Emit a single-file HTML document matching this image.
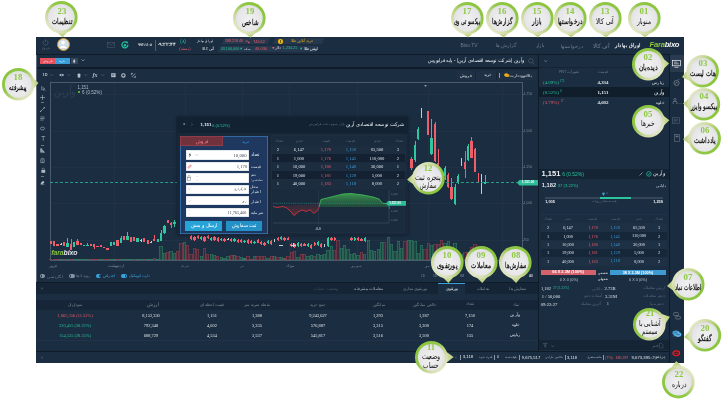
<!DOCTYPE html>
<html lang="fa"><head><meta charset="utf-8"><title>Farabixo</title>
<style>
html,body{margin:0;padding:0;}
body{width:722px;height:400px;position:relative;overflow:hidden;background:#ffffff;font-family:'Liberation Sans',sans-serif;}
body>div,body>svg{position:absolute;}
.t{white-space:nowrap;}
svg{overflow:visible;}
</style></head><body>
<div style="left:36px;top:37px;width:648px;height:326px;background:#1b2d40;"></div>
<div style="left:36px;top:37px;width:648px;height:16.5px;background:#1b2d40;"></div>
<div style="left:36px;top:53.5px;width:648px;height:1px;background:#0f1b27;"></div>
<svg style="left:42.2px;top:38.8px" width="7" height="6.4" viewBox="0 0 7 6.4"><path d="M2.2 1.5 A2.5 2.5 0 1 0 4.8 1.5" fill="none" stroke="#5f6d7e" stroke-width="0.55"/><path d="M3.5 0.3 V3" stroke="#5f6d7e" stroke-width="0.55"/></svg>
<div class="t" dir="rtl" style="top:40.05px;font-size:12.56px;line-height:15.71px;color:#6f7c8c;font-family:'Liberation Sans',sans-serif;left:45.75px;transform-origin:50% 50%;transform:translateX(-50%) scale(0.2500,0.2500);">خروج</div>
<div style="left:56.6px;top:37.9px;width:11.4px;height:11.4px;border-radius:50%;background:#d3dde8;border:1px solid #c9952c"></div>
<svg style="left:58px;top:39.2px" width="10" height="10" viewBox="0 0 10 10"><circle cx="5" cy="3.6" r="1.9" fill="#fff"/><path d="M1.3 9 Q5 4.6 8.7 9 Z" fill="#fff"/></svg>
<svg style="left:107.2px;top:42.2px" width="8" height="5.6" viewBox="0 0 8 5.6"><rect x="0.3" y="0.3" width="7.4" height="5" fill="none" stroke="#4f5f72" stroke-width="0.5"/><path d="M0.3 0.5 L4 3.2 L7.7 0.5" fill="none" stroke="#4f5f72" stroke-width="0.5"/></svg>
<svg style="left:121.4px;top:41.2px" width="8" height="8" viewBox="0 0 8 8"><path d="M5.6 1.4 A3 3 0 1 0 6.9 3.6" fill="none" stroke="#25c29c" stroke-width="1.2"/><path d="M4.6 0.2 L7.4 0.9 L6 3 Z" fill="#25c29c"/><circle cx="4" cy="4.3" r="1.3" fill="#25c29c"/></svg>
<div class="t" style="top:36.19px;font-size:14.41px;line-height:18.01px;color:#e6ebf0;font-family:'Liberation Sans',sans-serif;font-weight:bold;left:145.4px;transform-origin:50% 50%;transform:translateX(-50%) scale(0.2500,0.2500);">۹۷/۱۱/۰۸</div>
<div style="left:154.5px;top:40px;width:0.6px;height:10.5px;background:#4f5f72;"></div>
<div class="t" style="top:33.38px;font-size:18.92px;line-height:23.65px;color:#e6ebf0;font-family:'Liberation Sans',sans-serif;font-weight:bold;left:166.05px;transform-origin:50% 50%;transform:translateX(-50%) scale(0.2500,0.2500);">۰۹:۲۲:۴۴</div>
<div class="t" style="top:28.88px;font-size:19.72px;line-height:24.65px;color:#25c29c;font-family:'Liberation Sans',sans-serif;left:182.5px;transform-origin:50% 50%;transform:translateX(-50%) scale(0.2500,0.2500);">(۸)</div>
<div class="t" dir="rtl" style="top:37.66px;font-size:16.71px;line-height:20.89px;color:#ea5d69;font-family:'Liberation Sans',sans-serif;left:184.75px;transform-origin:50% 50%;transform:translateX(-50%) scale(0.2500,0.2500);">(بسته)</div>
<div class="t" dir="rtl" style="top:32.84px;font-size:13.54px;line-height:16.92px;color:#e6ebf0;font-family:'Liberation Sans',sans-serif;left:205.25px;transform-origin:50% 50%;transform:translateX(-50%) scale(0.2500,0.2500);">اوراق بهادار</div>
<div class="t" dir="rtl" style="top:38.93px;font-size:14.99px;line-height:18.73px;color:#e6ebf0;font-family:'Liberation Sans',sans-serif;left:207.85px;transform-origin:50% 50%;transform:translateX(-50%) scale(0.2500,0.2500);">آتی کالا</div>
<div style="left:223px;top:38.2px;width:46px;height:6.3px;background:#25384d;transform:skewX(-22deg)"></div>
<div style="left:274px;top:38.2px;width:49px;height:6.3px;background:#25384d;transform:skewX(-22deg)"></div>
<div style="left:219px;top:45.7px;width:98px;height:5.8px;background:#25384d;transform:skewX(-22deg)"></div>
<div class="t" style="top:32.31px;font-size:14.55px;line-height:18.19px;color:#ea5d69;font-family:'Liberation Sans',sans-serif;left:234.0px;transform-origin:50% 50%;transform:translateX(-50%) scale(0.2500,0.2500);">188,218.46</div>
<svg style="left:245px;top:39.6px" width="5" height="3.6" viewBox="0 0 5 3.6"><path d="M0.4 1.2 Q2.4 0.2 3.8 2.4" fill="none" stroke="#ea5d69" stroke-width="0.7"/><path d="M2.6 2.8 L4.6 3.4 L4.4 1.4 Z" fill="#ea5d69"/></svg>
<div class="t" style="top:31.91px;font-size:15.18px;line-height:18.97px;color:#ea5d69;font-family:'Liberation Sans',sans-serif;left:258.5px;transform-origin:50% 50%;transform:translateX(-50%) scale(0.2500,0.2500);">746.62</div>
<div style="left:278.3px;top:39.2px;width:4.4px;height:4.4px;border-radius:50%;background:#f0b90b"></div>
<div style="left:280.2px;top:40.2px;width:0.7px;height:2.4px;background:#7a5a00"></div>
<div class="t" dir="rtl" style="top:32.06px;font-size:14.63px;line-height:18.29px;color:#e0a920;font-family:'Liberation Sans',sans-serif;left:301.95px;transform-origin:50% 50%;transform:translateX(-50%) scale(0.2500,0.2500);">خرید آنلاین طلا</div>
<div class="t" style="top:39.25px;font-size:14.96px;line-height:18.69px;color:#25c29c;font-family:'Liberation Sans',sans-serif;left:229.65px;transform-origin:50% 50%;transform:translateX(-50%) scale(0.2500,0.2500);">43,100,000</div>
<svg style="left:239.9px;top:47.3px" width="2.2" height="2.2" viewBox="0 0 2 2"><path d="M1 0 L2 2 H0 Z" fill="#25c29c"/></svg>
<div class="t" dir="rtl" style="top:39.89px;font-size:13.94px;line-height:17.43px;color:#dfe4ea;font-family:'Liberation Sans',sans-serif;left:246.5px;transform-origin:50% 50%;transform:translateX(-50%) scale(0.2500,0.2500);">سکه</div>
<div class="t" style="top:38.39px;font-size:16.34px;line-height:20.43px;color:#ea5d69;font-family:'Liberation Sans',sans-serif;left:260.85px;transform-origin:50% 50%;transform:translateX(-50%) scale(0.2500,0.2500);">49,030</div>
<svg style="left:272.2px;top:47.3px" width="2.6" height="2.4" viewBox="0 0 2 2"><path d="M0 0 H2 L1 2 Z" fill="#ea5d69"/></svg>
<div class="t" dir="rtl" style="top:39.27px;font-size:14.93px;line-height:18.66px;color:#dfe4ea;font-family:'Liberation Sans',sans-serif;left:278.15px;transform-origin:50% 50%;transform:translateX(-50%) scale(0.2500,0.2500);">دلار</div>
<div class="t" style="top:39.41px;font-size:14.70px;line-height:18.37px;color:#25c29c;font-family:'Liberation Sans',sans-serif;left:290.05px;transform-origin:50% 50%;transform:translateX(-50%) scale(0.2500,0.2500);">1,234.21</div>
<svg style="left:300.3px;top:47.3px" width="2.2" height="2.2" viewBox="0 0 2 2"><path d="M1 0 L2 2 H0 Z" fill="#25c29c"/></svg>
<div class="t" dir="rtl" style="top:39.58px;font-size:14.44px;line-height:18.05px;color:#dfe4ea;font-family:'Liberation Sans',sans-serif;left:310.5px;transform-origin:50% 50%;transform:translateX(-50%) scale(0.2500,0.2500);">اونس طلا</div>
<div class="t" style="top:33.22px;font-size:19.64px;line-height:24.56px;color:#6f7d8e;font-family:'Liberation Sans',sans-serif;left:469.35px;transform-origin:50% 50%;transform:translateX(-50%) scale(0.2500,0.2500);">Bixo TV</div>
<div class="t" dir="rtl" style="top:33.29px;font-size:19.54px;line-height:24.42px;color:#6f7d8e;font-family:'Liberation Sans',sans-serif;left:506.0px;transform-origin:50% 50%;transform:translateX(-50%) scale(0.2500,0.2500);">گزارش ها</div>
<div class="t" dir="rtl" style="top:34.01px;font-size:18.38px;line-height:22.97px;color:#6f7d8e;font-family:'Liberation Sans',sans-serif;left:540.15px;transform-origin:50% 50%;transform:translateX(-50%) scale(0.2500,0.2500);">بازار</div>
<div class="t" dir="rtl" style="top:32.66px;font-size:20.55px;line-height:25.69px;color:#6f7d8e;font-family:'Liberation Sans',sans-serif;left:572.2px;transform-origin:50% 50%;transform:translateX(-50%) scale(0.2500,0.2500);">درخواستها</div>
<div class="t" dir="rtl" style="top:31.75px;font-size:22.00px;line-height:27.50px;color:#6f7d8e;font-family:'Liberation Sans',sans-serif;left:600.7px;transform-origin:50% 50%;transform:translateX(-50%) scale(0.2500,0.2500);">آتی کالا</div>
<div class="t" dir="rtl" style="top:32.19px;font-size:21.30px;line-height:26.63px;color:#e6ebf0;font-family:'Liberation Sans',sans-serif;font-weight:bold;left:628.2px;transform-origin:50% 50%;transform:translateX(-50%) scale(0.2500,0.2500);">اوراق بهادار</div>
<div class="t" style="left:649.6px;top:40.8px;font-size:7.6px;line-height:8.2px;font-family:'Liberation Sans',sans-serif;font-style:italic;font-weight:bold;letter-spacing:-0.25px"><span style="color:#8cc63f">Fara</span><span style="color:#f2f4f6">bixo</span></div>
<div style="left:36px;top:54.5px;width:501.5px;height:13px;background:#1b2d40;"></div>
<div style="left:537.5px;top:54.5px;width:1.5px;height:296.5px;background:#0f1b27;"></div>
<div style="left:36px;top:67.3px;width:501.5px;height:1.6px;background:#0f1b27;"></div>
<div style="left:40px;top:57.75px;width:15.2px;height:6.25px;background:#e5525f;"></div>
<div style="left:55.2px;top:57.75px;width:15px;height:6.25px;background:#3a9fd8;"></div>
<div class="t" dir="rtl" style="top:52.72px;font-size:13.56px;line-height:16.96px;color:#ffe9ec;font-family:'Liberation Sans',sans-serif;left:47.65px;transform-origin:50% 50%;transform:translateX(-50%) scale(0.2500,0.2500);">فروش</div>
<div class="t" dir="rtl" style="top:52.49px;font-size:13.93px;line-height:17.41px;color:#e8f4ff;font-family:'Liberation Sans',sans-serif;left:62.35px;transform-origin:50% 50%;transform:translateX(-50%) scale(0.2500,0.2500);">خرید</div>
<div style="left:71.4px;top:57.75px;width:6.3px;height:6.25px;background:#35465b;"></div>
<svg style="left:73.4px;top:58.6px" width="2.4" height="4.6" viewBox="0 0 2.4 4.6"><path d="M1.2 0 L2.4 2.3 L1.2 4.6 L0 2.3 Z" fill="#c9d2dc"/></svg>
<svg style="left:81.3px;top:59.2px" width="4" height="2.6" viewBox="0 0 4 2.6"><path d="M0.4 0.4 L2 2 L3.6 0.4" fill="none" stroke="#a9b4c1" stroke-width="0.6"/></svg>
<div class="t" dir="rtl" style="top:49.06px;font-size:18.47px;line-height:23.09px;color:#e3e8ee;font-family:'Liberation Sans',sans-serif;left:475.6px;transform-origin:50% 50%;transform:translateX(-50%) scale(0.2500,0.2500);">وآرین (شرکت توسعه اقتصادی آرین) - پایه فرابورس</div>
<svg style="left:528px;top:57.6px" width="7" height="7" viewBox="0 0 7 7"><circle cx="2.8" cy="2.8" r="2.2" fill="none" stroke="#5f6d7e" stroke-width="0.5"/><path d="M4.4 4.4 L6.4 6.4" stroke="#5f6d7e" stroke-width="0.6"/></svg>
<div style="left:36px;top:68.9px;width:501.5px;height:11.6px;background:#1b2d40;"></div>
<div class="t" style="top:65.22px;font-size:15.65px;line-height:19.56px;color:#b7c1cc;font-family:'Liberation Sans',sans-serif;font-weight:bold;left:44.75px;transform-origin:50% 50%;transform:translateX(-50%) scale(0.2500,0.2500);">1D</div>
<svg style="left:49.8px;top:74.3px" width="3.4" height="2.4" viewBox="0 0 3.4 2.4"><path d="M0.4 0.4 L1.7 1.8 L3 0.4" fill="none" stroke="#6d7b8c" stroke-width="0.5"/></svg>
<svg style="left:58.7px;top:73.2px" width="5.4" height="4" viewBox="0 0 5.4 4"><path d="M0.2 2 Q2.7 -0.5 5.2 2 Q2.7 4.5 0.2 2 Z" fill="#b7c1cc"/><circle cx="2.7" cy="2" r="0.8" fill="#1b2d40"/></svg>
<svg style="left:66.9px;top:74.3px" width="3.4" height="2.4" viewBox="0 0 3.4 2.4"><path d="M0.4 0.4 L1.7 1.8 L3 0.4" fill="none" stroke="#6d7b8c" stroke-width="0.5"/></svg>
<svg style="left:77.2px;top:72.6px" width="4" height="5" viewBox="0 0 4 5"><rect x="0.7" y="0.8" width="2.6" height="3.8" rx="0.4" fill="#b7c1cc"/><path d="M2 0 V5" stroke="#b7c1cc" stroke-width="0.4"/></svg>
<svg style="left:84.1px;top:74.3px" width="3.4" height="2.4" viewBox="0 0 3.4 2.4"><path d="M0.4 0.4 L1.7 1.8 L3 0.4" fill="none" stroke="#6d7b8c" stroke-width="0.5"/></svg>
<div class="t" style="left:92.4px;top:71.6px;font-size:6px;line-height:7px;font-family:'Liberation Serif','DejaVu Serif',serif;font-style:italic;font-weight:bold;color:#b7c1cc">fx</div>
<svg style="left:101.3px;top:74.3px" width="3.4" height="2.4" viewBox="0 0 3.4 2.4"><path d="M0.4 0.4 L1.7 1.8 L3 0.4" fill="none" stroke="#6d7b8c" stroke-width="0.5"/></svg>
<svg style="left:110.6px;top:72.9px" width="4.8" height="4.4" viewBox="0 0 4.8 4.4"><path d="M0.2 0.2 H4.6 V4.2 H0.2 Z" fill="#b7c1cc"/><path d="M1 1.4 H3.8 M1 2.6 H3" stroke="#1b2d40" stroke-width="0.45"/></svg>
<svg style="left:120.9px;top:72.8px" width="4.8" height="4.8" viewBox="0 0 4.8 4.8"><circle cx="2.4" cy="2.4" r="1.7" fill="none" stroke="#b7c1cc" stroke-width="1.1"/></svg>
<svg style="left:131px;top:72.8px" width="4.8" height="4.8" viewBox="0 0 4.8 4.8"><path d="M0.4 2 V0.4 H2 M4.4 2.8 V4.4 H2.8 M0.6 4.2 L4.2 0.6" fill="none" stroke="#b7c1cc" stroke-width="0.7"/></svg>
<div style="left:456.6px;top:71.3px;width:79px;height:8.3px;background:#1f3044;"></div>
<div style="left:475.3px;top:71.3px;width:0.6px;height:8.299999999999997px;background:#162638;"></div>
<div style="left:496.1px;top:71.3px;width:0.6px;height:8.299999999999997px;background:#162638;"></div>
<div class="t" dir="rtl" style="top:65.84px;font-size:14.97px;line-height:18.71px;color:#dfe5eb;font-family:'Liberation Sans',sans-serif;left:521.3px;transform-origin:50% 50%;transform:translateX(-50%) scale(0.2500,0.2500);">بالاخوود دارت</div>
<svg style="left:503.6px;top:73.2px" width="5.8" height="4.4" viewBox="0 0 6 4.6"><ellipse cx="2.4" cy="2" rx="2.3" ry="1.8" fill="#f2b81c"/><ellipse cx="3.9" cy="2.8" rx="1.9" ry="1.5" fill="#e6a310"/></svg>
<div style="left:499.4px;top:72.8px;width:0.5px;height:5.0px;background:#8a97a6;"></div>
<div class="t" dir="rtl" style="top:66.11px;font-size:14.55px;line-height:18.19px;color:#dfe5eb;font-family:'Liberation Sans',sans-serif;left:487.6px;transform-origin:50% 50%;transform:translateX(-50%) scale(0.2500,0.2500);">خرید</div>
<div class="t" dir="rtl" style="top:64.91px;font-size:16.47px;line-height:20.59px;color:#dfe5eb;font-family:'Liberation Sans',sans-serif;left:466.35px;transform-origin:50% 50%;transform:translateX(-50%) scale(0.2500,0.2500);">فروش</div>
<div style="left:36px;top:80.5px;width:501.5px;height:201px;background:#1b2d40;"></div>
<div style="left:36px;top:54.5px;width:0.9px;height:227.5px;background:#5d6b7d;"></div>
<svg style="left:40.5px;top:85.5px" width="5" height="5" viewBox="0 0 5 5"><path d="M0.5 0.5 L0.5 4 L1.6 3 L2.6 4.6 L3.2 4.3 L2.3 2.8 L3.8 2.7 Z" fill="none" stroke="#aeb9c6" stroke-width="0.45"/><path d="M3.2 3.4 L4.6 4.6" stroke="#aeb9c6" stroke-width="0.4"/></svg>
<svg style="left:40.3px;top:94.8px" width="5" height="5" viewBox="0 0 5 5"><path d="M2.5 0 V5 M0 2.5 H5" stroke="#aeb9c6" stroke-width="0.6"/></svg>
<div style="left:41.3px;top:102px;width:2.9000000000000057px;height:0.5px;background:#66768a;"></div>
<svg style="left:40.3px;top:107px" width="5" height="5" viewBox="0 0 5 5"><path d="M0.5 4.5 L4.5 0.5" stroke="#aeb9c6" stroke-width="0.6"/><circle cx="0.7" cy="4.3" r="0.6" fill="#aeb9c6"/><circle cx="4.3" cy="0.7" r="0.6" fill="#aeb9c6"/></svg>
<svg style="left:40.3px;top:116.2px" width="5" height="5" viewBox="0 0 5 5"><path d="M0.3 1 H4.7 M0.3 2.5 H4.7 M0.3 4 H3.5" stroke="#aeb9c6" stroke-width="0.6"/></svg>
<svg style="left:40.3px;top:126.4px" width="5" height="5" viewBox="0 0 5 5"><ellipse cx="2.5" cy="2.5" rx="2.1" ry="1.4" fill="none" stroke="#aeb9c6" stroke-width="0.6"/></svg>
<svg style="left:40.6px;top:136px" width="4.5" height="5" viewBox="0 0 4.5 5"><path d="M0.3 0.5 H4.2 M2.25 0.5 V4.8" stroke="#aeb9c6" stroke-width="0.6"/></svg>
<div style="left:41.3px;top:144.5px;width:2.9000000000000057px;height:0.5px;background:#66768a;"></div>
<svg style="left:40.3px;top:148.2px" width="5" height="5" viewBox="0 0 5 5"><path d="M0.5 4.6 V0.6 H1.8 V4.6 M2.4 4.6 V1.6 L4.6 4.6 Z" fill="#aeb9c6" stroke="#aeb9c6" stroke-width="0.3"/></svg>
<svg style="left:40.3px;top:158.4px" width="5" height="5" viewBox="0 0 5 5"><path d="M0.8 4.6 V2 A1.7 1.7 0 0 1 4.2 2 V4.6 Z" fill="none" stroke="#aeb9c6" stroke-width="0.6"/><path d="M2.5 1 V4.6" stroke="#aeb9c6" stroke-width="0.4"/></svg>
<svg style="left:40.5px;top:167.8px" width="4.6" height="5" viewBox="0 0 4.6 5"><rect x="0.4" y="2" width="3.8" height="2.8" fill="#aeb9c6"/><path d="M1.2 2 V1.2 A1.1 1.1 0 0 1 3.4 1.2 V2" fill="none" stroke="#aeb9c6" stroke-width="0.5"/></svg>
<div style="left:41.3px;top:176px;width:2.9000000000000057px;height:0.5px;background:#66768a;"></div>
<svg style="left:40.3px;top:180px" width="5" height="5" viewBox="0 0 5 5"><path d="M0.5 3.2 L3 0.7 L4.5 2.2 L2 4.7 Z" fill="#aeb9c6"/><path d="M0.5 4.6 H4.6" stroke="#aeb9c6" stroke-width="0.4"/></svg>
<div style="left:49.5px;top:94.45px;width:472.0px;height:0.5px;background:#223245;"></div>
<div style="left:49.5px;top:131.05px;width:472.0px;height:0.5px;background:#223245;"></div>
<div style="left:49.5px;top:167.35px;width:472.0px;height:0.5px;background:#223245;"></div>
<div style="left:49.5px;top:203.45px;width:472.0px;height:0.5px;background:#223245;"></div>
<div style="left:49.5px;top:240.25px;width:472.0px;height:0.5px;background:#223245;"></div>
<div style="left:114.45px;top:81.6px;width:0.5px;height:178.00000000000003px;background:#223245;"></div>
<div style="left:185.05px;top:81.6px;width:0.5px;height:178.00000000000003px;background:#223245;"></div>
<div style="left:242.15px;top:81.6px;width:0.5px;height:178.00000000000003px;background:#223245;"></div>
<div style="left:289.05px;top:81.6px;width:0.5px;height:178.00000000000003px;background:#223245;"></div>
<div style="left:356.65px;top:81.6px;width:0.5px;height:178.00000000000003px;background:#223245;"></div>
<div style="left:428.15px;top:81.6px;width:0.5px;height:178.00000000000003px;background:#223245;"></div>
<div style="left:502.15px;top:81.6px;width:0.5px;height:178.00000000000003px;background:#223245;"></div>
<div style="left:49.5px;top:81.6px;width:472.0px;height:0.7px;background:#4b5a6d;"></div>
<div style="left:49.5px;top:81.6px;width:0.7px;height:179.00000000000003px;background:#4b5a6d;"></div>
<div style="left:521.5px;top:81.6px;width:0.7px;height:193.4px;background:#4b5a6d;"></div>
<div style="left:49.5px;top:259.6px;width:472.70000000000005px;height:0.5px;background:#4b5a6d;"></div>
<div style="left:521.5px;top:94.45px;width:2.0px;height:0.5px;background:#4b5a6d;"></div>
<div class="t" style="top:86.20px;font-size:13.59px;line-height:16.99px;color:#7d8a99;font-family:'Liberation Sans',sans-serif;left:527.75px;transform-origin:50% 50%;transform:translateX(-50%) scale(0.2500,0.2500);">1,750</div>
<div style="left:521.5px;top:131.05px;width:2.0px;height:0.5px;background:#4b5a6d;"></div>
<div class="t" style="top:122.80px;font-size:13.59px;line-height:16.99px;color:#7d8a99;font-family:'Liberation Sans',sans-serif;left:527.75px;transform-origin:50% 50%;transform:translateX(-50%) scale(0.2500,0.2500);">1,500</div>
<div style="left:521.5px;top:167.35px;width:2.0px;height:0.5px;background:#4b5a6d;"></div>
<div class="t" style="top:159.10px;font-size:13.59px;line-height:16.99px;color:#7d8a99;font-family:'Liberation Sans',sans-serif;left:527.75px;transform-origin:50% 50%;transform:translateX(-50%) scale(0.2500,0.2500);">1,250</div>
<div style="left:521.5px;top:203.45px;width:2.0px;height:0.5px;background:#4b5a6d;"></div>
<div class="t" style="top:195.20px;font-size:13.59px;line-height:16.99px;color:#7d8a99;font-family:'Liberation Sans',sans-serif;left:527.75px;transform-origin:50% 50%;transform:translateX(-50%) scale(0.2500,0.2500);">1,000</div>
<div style="left:521.5px;top:240.25px;width:2.0px;height:0.5px;background:#4b5a6d;"></div>
<div class="t" style="top:232.41px;font-size:12.94px;line-height:16.18px;color:#7d8a99;font-family:'Liberation Sans',sans-serif;left:526.2px;transform-origin:50% 50%;transform:translateX(-50%) scale(0.2500,0.2500);">750</div>
<div class="t" dir="rtl" style="top:63.22px;font-size:44.45px;line-height:55.57px;color:#2f4055;font-family:'Liberation Sans',sans-serif;left:64.9px;transform-origin:50% 50%;transform:translateX(-50%) scale(0.2125,0.2500);">وآرین</div>
<div class="t" style="top:76.01px;font-size:17.74px;line-height:22.18px;color:#b4bdc8;font-family:'Liberation Sans',sans-serif;left:82.65px;transform-origin:50% 50%;transform:translateX(-50%) scale(0.2500,0.2500);">1,151</div>
<div style="left:77.6px;top:91.2px;width:2px;height:2px;border-radius:50%;background:#7bd23a"></div>
<div class="t" style="top:80.83px;font-size:18.36px;line-height:22.95px;color:#b4bdc8;font-family:'Liberation Sans',sans-serif;left:91.55px;transform-origin:50% 50%;transform:translateX(-50%) scale(0.2500,0.2500);">6 (0.52%)</div>
<svg style="left:423.5px;top:84.6px" width="3" height="2" viewBox="0 0 3 2"><path d="M0 0 H3 L1.5 2 Z" fill="#8b97a5"/></svg>
<div style="left:49.65px;top:241px;width:2.3px;height:3px;background:#ef5f6b;"></div>
<div style="left:52.99px;top:241px;width:2.3px;height:5px;background:#ef5f6b;"></div>
<div style="left:56.33px;top:244px;width:2.3px;height:2px;background:#ef5f6b;"></div>
<div style="left:60.57px;top:242.5px;width:0.5px;height:2.5px;background:#c5ccd4;"></div>
<div style="left:60.02px;top:243.5px;width:1.6px;height:0.8px;background:#c5ccd4;"></div>
<div style="left:63.01px;top:242px;width:2.3px;height:4px;background:#ef5f6b;"></div>
<div style="left:67.25px;top:238px;width:0.5px;height:9px;background:#2ec79f;"></div>
<div style="left:66.35px;top:243px;width:2.3px;height:4px;background:#2ec79f;"></div>
<div style="left:70.59px;top:239px;width:0.5px;height:11px;background:#ef5f6b;"></div>
<div style="left:69.69px;top:244px;width:2.3px;height:5.5px;background:#ef5f6b;"></div>
<div style="left:73.03px;top:242px;width:2.3px;height:5px;background:#2ec79f;"></div>
<div style="left:77.27px;top:239px;width:0.5px;height:6px;background:#ef5f6b;"></div>
<div style="left:76.37px;top:241px;width:2.3px;height:4px;background:#ef5f6b;"></div>
<div style="left:79.71px;top:243px;width:2.3px;height:2px;background:#ef5f6b;"></div>
<div style="left:83.05px;top:245px;width:2.3px;height:1px;background:#2ec79f;"></div>
<div style="left:87.29px;top:243px;width:0.5px;height:3px;background:#2ec79f;"></div>
<div style="left:86.39px;top:245px;width:2.3px;height:1px;background:#2ec79f;"></div>
<div style="left:89.73px;top:244px;width:2.3px;height:2px;background:#ef5f6b;"></div>
<div style="left:93.97px;top:244px;width:0.5px;height:5px;background:#ef5f6b;"></div>
<div style="left:93.07px;top:244px;width:2.3px;height:3px;background:#ef5f6b;"></div>
<div style="left:96.41px;top:246px;width:2.3px;height:1px;background:#ef5f6b;"></div>
<div style="left:99.75px;top:245px;width:2.3px;height:2px;background:#ef5f6b;"></div>
<div style="left:103.09px;top:247px;width:2.3px;height:1px;background:#ef5f6b;"></div>
<div style="left:106.43px;top:248px;width:2.3px;height:1.5px;background:#ef5f6b;"></div>
<div style="left:109.77px;top:242px;width:2.3px;height:3.5px;background:#2ec79f;"></div>
<div style="left:113.11px;top:242px;width:2.3px;height:3px;background:#2ec79f;"></div>
<div style="left:116.45px;top:240px;width:2.3px;height:6px;background:#ef5f6b;"></div>
<div style="left:120.69px;top:236px;width:0.5px;height:7px;background:#2ec79f;"></div>
<div style="left:119.79px;top:238px;width:2.3px;height:4.5px;background:#2ec79f;"></div>
<div style="left:123.13px;top:236px;width:2.3px;height:4px;background:#ef5f6b;"></div>
<div style="left:127.37px;top:232px;width:0.5px;height:8px;background:#2ec79f;"></div>
<div style="left:126.47px;top:236px;width:2.3px;height:4px;background:#2ec79f;"></div>
<div style="left:129.81px;top:237px;width:2.3px;height:5px;background:#ef5f6b;"></div>
<div style="left:133.15px;top:237px;width:2.3px;height:4px;background:#ef5f6b;"></div>
<div style="left:136.49px;top:238px;width:2.3px;height:4px;background:#2ec79f;"></div>
<div style="left:140.73px;top:239px;width:0.5px;height:3px;background:#c5ccd4;"></div>
<div style="left:140.18px;top:240px;width:1.6px;height:0.8px;background:#c5ccd4;"></div>
<div style="left:143.17px;top:238px;width:2.3px;height:4px;background:#ef5f6b;"></div>
<div style="left:146.51px;top:240px;width:2.3px;height:4px;background:#ef5f6b;"></div>
<div style="left:150.75px;top:240.5px;width:0.5px;height:2.5px;background:#c5ccd4;"></div>
<div style="left:150.2px;top:241.6px;width:1.6px;height:0.8px;background:#c5ccd4;"></div>
<div style="left:154.09px;top:235px;width:0.5px;height:6px;background:#ef5f6b;"></div>
<div style="left:153.19px;top:239px;width:2.3px;height:1.5px;background:#ef5f6b;"></div>
<div style="left:156.53px;top:239px;width:2.3px;height:3px;background:#2ec79f;"></div>
<div style="left:160.77px;top:230px;width:0.5px;height:11px;background:#2ec79f;"></div>
<div style="left:159.87px;top:233px;width:2.3px;height:8px;background:#2ec79f;"></div>
<div style="left:164.11px;top:225px;width:0.5px;height:9px;background:#2ec79f;"></div>
<div style="left:163.21px;top:226px;width:2.3px;height:7px;background:#2ec79f;"></div>
<div style="left:166.55px;top:220px;width:2.3px;height:3px;background:#ef5f6b;"></div>
<div style="left:170.79px;top:222px;width:0.5px;height:6px;background:#ef5f6b;"></div>
<div style="left:169.89px;top:223px;width:2.3px;height:2px;background:#ef5f6b;"></div>
<div style="left:174.13px;top:220px;width:0.5px;height:7px;background:#2ec79f;"></div>
<div style="left:173.23px;top:222px;width:2.3px;height:2px;background:#2ec79f;"></div>
<div style="left:190.83px;top:235.39999999999998px;width:0.5px;height:4.600000000000023px;background:#ef5f6b;"></div>
<div style="left:189.93px;top:236.2px;width:2.3px;height:3.0px;background:#ef5f6b;"></div>
<div style="left:194.17px;top:235.89999999999998px;width:0.5px;height:5.100000000000023px;background:#ef5f6b;"></div>
<div style="left:193.27px;top:236.7px;width:2.3px;height:3.5px;background:#ef5f6b;"></div>
<div style="left:197.51px;top:235.39999999999998px;width:0.5px;height:3.6000000000000227px;background:#ef5f6b;"></div>
<div style="left:196.61px;top:236.2px;width:2.3px;height:2.0px;background:#ef5f6b;"></div>
<div style="left:200.85px;top:236.39999999999998px;width:0.5px;height:3.6000000000000227px;background:#2ec79f;"></div>
<div style="left:199.95px;top:237.2px;width:2.3px;height:2.0px;background:#2ec79f;"></div>
<div style="left:204.19px;top:236.39999999999998px;width:0.5px;height:5.600000000000023px;background:#ef5f6b;"></div>
<div style="left:203.29px;top:237.2px;width:2.3px;height:4.0px;background:#ef5f6b;"></div>
<div style="left:207.53px;top:235.39999999999998px;width:0.5px;height:3.6000000000000227px;background:#ef5f6b;"></div>
<div style="left:206.63px;top:236.2px;width:2.3px;height:2.0px;background:#ef5f6b;"></div>
<div style="left:210.87px;top:237.39999999999998px;width:0.5px;height:3.6000000000000227px;background:#2ec79f;"></div>
<div style="left:209.97px;top:238.2px;width:2.3px;height:2.0px;background:#2ec79f;"></div>
<div style="left:214.21px;top:236.39999999999998px;width:0.5px;height:4.600000000000023px;background:#ef5f6b;"></div>
<div style="left:213.31px;top:237.2px;width:2.3px;height:3.0px;background:#ef5f6b;"></div>
<div style="left:217.55px;top:237.39999999999998px;width:0.5px;height:4.600000000000023px;background:#ef5f6b;"></div>
<div style="left:216.65px;top:238.2px;width:2.3px;height:3.0px;background:#ef5f6b;"></div>
<div style="left:220.89px;top:238.39999999999998px;width:0.5px;height:2.6000000000000227px;background:#2ec79f;"></div>
<div style="left:219.99px;top:239.2px;width:2.3px;height:1.0px;background:#2ec79f;"></div>
<div style="left:224.23px;top:237.89999999999998px;width:0.5px;height:4.100000000000023px;background:#ef5f6b;"></div>
<div style="left:223.33px;top:238.7px;width:2.3px;height:2.5px;background:#ef5f6b;"></div>
<div style="left:227.57px;top:237.7px;width:0.5px;height:2.6999999999999886px;background:#c5ccd4;"></div>
<div style="left:227.02px;top:238.7px;width:1.6px;height:0.8px;background:#c5ccd4;"></div>
<div style="left:230.91px;top:238.39999999999998px;width:0.5px;height:3.6000000000000227px;background:#ef5f6b;"></div>
<div style="left:230.01px;top:239.2px;width:2.3px;height:2.0px;background:#ef5f6b;"></div>
<div style="left:234.25px;top:238.39999999999998px;width:0.5px;height:3.6000000000000227px;background:#2ec79f;"></div>
<div style="left:233.35px;top:239.2px;width:2.3px;height:2.0px;background:#2ec79f;"></div>
<div style="left:237.59px;top:239.39999999999998px;width:0.5px;height:3.6000000000000227px;background:#ef5f6b;"></div>
<div style="left:236.69px;top:240.2px;width:2.3px;height:2.0px;background:#ef5f6b;"></div>
<div style="left:240.93px;top:238.89999999999998px;width:0.5px;height:4.100000000000023px;background:#ef5f6b;"></div>
<div style="left:240.03px;top:239.7px;width:2.3px;height:2.5px;background:#ef5f6b;"></div>
<div style="left:244.27px;top:239.89999999999998px;width:0.5px;height:3.1000000000000227px;background:#2ec79f;"></div>
<div style="left:243.37px;top:240.7px;width:2.3px;height:1.5px;background:#2ec79f;"></div>
<div style="left:247.61px;top:239.39999999999998px;width:0.5px;height:4.600000000000023px;background:#ef5f6b;"></div>
<div style="left:246.71px;top:240.2px;width:2.3px;height:3.0px;background:#ef5f6b;"></div>
<div style="left:250.95px;top:240.39999999999998px;width:0.5px;height:3.6000000000000227px;background:#ef5f6b;"></div>
<div style="left:250.05px;top:241.2px;width:2.3px;height:2.0px;background:#ef5f6b;"></div>
<div style="left:254.29px;top:240.89999999999998px;width:0.5px;height:3.1000000000000227px;background:#2ec79f;"></div>
<div style="left:253.39px;top:241.7px;width:2.3px;height:1.5px;background:#2ec79f;"></div>
<div style="left:257.63px;top:239.39999999999998px;width:0.5px;height:4.100000000000023px;background:#ef5f6b;"></div>
<div style="left:256.73px;top:240.2px;width:2.3px;height:2.5px;background:#ef5f6b;"></div>
<div style="left:260.97px;top:241.39999999999998px;width:0.5px;height:3.6000000000000227px;background:#ef5f6b;"></div>
<div style="left:260.07px;top:242.2px;width:2.3px;height:2.0px;background:#ef5f6b;"></div>
<div style="left:264.31px;top:241.89999999999998px;width:0.5px;height:4.100000000000023px;background:#ef5f6b;"></div>
<div style="left:263.41px;top:242.7px;width:2.3px;height:2.5px;background:#ef5f6b;"></div>
<div style="left:267.65px;top:240.39999999999998px;width:0.5px;height:3.6000000000000227px;background:#2ec79f;"></div>
<div style="left:266.75px;top:241.2px;width:2.3px;height:2.0px;background:#2ec79f;"></div>
<div style="left:270.99px;top:240.39999999999998px;width:0.5px;height:4.600000000000023px;background:#ef5f6b;"></div>
<div style="left:270.09px;top:241.2px;width:2.3px;height:3.0px;background:#ef5f6b;"></div>
<div style="left:274.33px;top:239.2px;width:0.5px;height:3.0px;background:#c5ccd4;"></div>
<div style="left:273.78px;top:240.2px;width:1.6px;height:1.0px;background:#c5ccd4;"></div>
<div style="left:277.67px;top:237.39999999999998px;width:0.5px;height:3.6000000000000227px;background:#ef5f6b;"></div>
<div style="left:276.77px;top:238.2px;width:2.3px;height:2.0px;background:#ef5f6b;"></div>
<div style="left:281.01px;top:236.39999999999998px;width:0.5px;height:3.6000000000000227px;background:#2ec79f;"></div>
<div style="left:280.11px;top:237.2px;width:2.3px;height:2.0px;background:#2ec79f;"></div>
<div style="left:284.35px;top:237.39999999999998px;width:0.5px;height:3.6000000000000227px;background:#ef5f6b;"></div>
<div style="left:283.45px;top:238.2px;width:2.3px;height:2.0px;background:#ef5f6b;"></div>
<div style="left:287.69px;top:237.39999999999998px;width:0.5px;height:3.1000000000000227px;background:#ef5f6b;"></div>
<div style="left:286.79px;top:238.2px;width:2.3px;height:1.5px;background:#ef5f6b;"></div>
<div style="left:291.03px;top:243.2px;width:0.5px;height:3.6000000000000227px;background:#ef5f6b;"></div>
<div style="left:290.13px;top:244px;width:2.3px;height:2px;background:#ef5f6b;"></div>
<div style="left:294.37px;top:243.2px;width:0.5px;height:4.600000000000023px;background:#ef5f6b;"></div>
<div style="left:293.47px;top:244px;width:2.3px;height:3px;background:#ef5f6b;"></div>
<div style="left:297.71px;top:242.2px;width:0.5px;height:4.600000000000023px;background:#2ec79f;"></div>
<div style="left:296.81px;top:243px;width:2.3px;height:3px;background:#2ec79f;"></div>
<div style="left:301.05px;top:243.2px;width:0.5px;height:3.6000000000000227px;background:#ef5f6b;"></div>
<div style="left:300.15px;top:244px;width:2.3px;height:2px;background:#ef5f6b;"></div>
<div style="left:304.39px;top:242.7px;width:0.5px;height:3.6000000000000227px;background:#ef5f6b;"></div>
<div style="left:303.49px;top:243.5px;width:2.3px;height:2.0px;background:#ef5f6b;"></div>
<div style="left:307.73px;top:243.2px;width:0.5px;height:3.6000000000000227px;background:#2ec79f;"></div>
<div style="left:306.83px;top:244px;width:2.3px;height:2px;background:#2ec79f;"></div>
<div style="left:311.07px;top:244.2px;width:0.5px;height:4.600000000000023px;background:#ef5f6b;"></div>
<div style="left:310.17px;top:245px;width:2.3px;height:3px;background:#ef5f6b;"></div>
<div style="left:314.41px;top:242.2px;width:0.5px;height:3.6000000000000227px;background:#ef5f6b;"></div>
<div style="left:313.51px;top:243px;width:2.3px;height:2px;background:#ef5f6b;"></div>
<div style="left:317.75px;top:241.2px;width:0.5px;height:4.600000000000023px;background:#2ec79f;"></div>
<div style="left:316.85px;top:242px;width:2.3px;height:3px;background:#2ec79f;"></div>
<div style="left:321.09px;top:243.2px;width:0.5px;height:4.600000000000023px;background:#ef5f6b;"></div>
<div style="left:320.19px;top:244px;width:2.3px;height:3px;background:#ef5f6b;"></div>
<div style="left:324.43px;top:244px;width:0.5px;height:3px;background:#c5ccd4;"></div>
<div style="left:323.88px;top:245px;width:1.6px;height:1px;background:#c5ccd4;"></div>
<div style="left:327.77px;top:237.2px;width:0.5px;height:9.600000000000023px;background:#2ec79f;"></div>
<div style="left:326.87px;top:238px;width:2.3px;height:8px;background:#2ec79f;"></div>
<div style="left:331.11px;top:237.2px;width:0.5px;height:3.6000000000000227px;background:#ef5f6b;"></div>
<div style="left:330.21px;top:238px;width:2.3px;height:2px;background:#ef5f6b;"></div>
<div style="left:334.45px;top:237.2px;width:0.5px;height:3.6000000000000227px;background:#ef5f6b;"></div>
<div style="left:333.55px;top:238px;width:2.3px;height:2px;background:#ef5f6b;"></div>
<div style="left:351.15px;top:237.2px;width:0.5px;height:3.6000000000000227px;background:#ef5f6b;"></div>
<div style="left:350.25px;top:238px;width:2.3px;height:2px;background:#ef5f6b;"></div>
<div style="left:354.49px;top:237.2px;width:0.5px;height:3.6000000000000227px;background:#2ec79f;"></div>
<div style="left:353.59px;top:238px;width:2.3px;height:2px;background:#2ec79f;"></div>
<div style="left:357.83px;top:237.2px;width:0.5px;height:3.6000000000000227px;background:#ef5f6b;"></div>
<div style="left:356.93px;top:238px;width:2.3px;height:2px;background:#ef5f6b;"></div>
<div style="left:361.17px;top:237.7px;width:0.5px;height:3.6000000000000227px;background:#ef5f6b;"></div>
<div style="left:360.27px;top:238.5px;width:2.3px;height:2.0px;background:#ef5f6b;"></div>
<div style="left:364.51px;top:237.2px;width:0.5px;height:4.600000000000023px;background:#2ec79f;"></div>
<div style="left:363.61px;top:238px;width:2.3px;height:3px;background:#2ec79f;"></div>
<div style="left:411.27px;top:157px;width:0.5px;height:13px;background:#ef5f6b;"></div>
<div style="left:410.37px;top:159px;width:2.3px;height:9px;background:#ef5f6b;"></div>
<div style="left:414.61px;top:141px;width:0.5px;height:21px;background:#2ec79f;"></div>
<div style="left:413.71px;top:145px;width:2.3px;height:15px;background:#2ec79f;"></div>
<div style="left:417.95px;top:127px;width:0.5px;height:13px;background:#2ec79f;"></div>
<div style="left:417.05px;top:129px;width:2.3px;height:10px;background:#2ec79f;"></div>
<div style="left:421.29px;top:108px;width:0.5px;height:10px;background:#c5ccd4;"></div>
<div style="left:420.74px;top:112px;width:1.6px;height:1px;background:#c5ccd4;"></div>
<div style="left:427.07px;top:111px;width:2.3px;height:24px;background:#ef5f6b;"></div>
<div style="left:431.31px;top:119px;width:0.5px;height:36px;background:#2ec79f;"></div>
<div style="left:430.41px;top:137.6px;width:2.3px;height:16.8px;background:#2ec79f;"></div>
<div style="left:434.65px;top:122px;width:0.5px;height:40px;background:#ef5f6b;"></div>
<div style="left:433.75px;top:123.6px;width:2.3px;height:37.4px;background:#ef5f6b;"></div>
<div style="left:437.99px;top:149px;width:0.5px;height:19px;background:#ef5f6b;"></div>
<div style="left:437.09px;top:163px;width:2.3px;height:3px;background:#ef5f6b;"></div>
<div style="left:444.67px;top:166px;width:0.5px;height:14px;background:#2ec79f;"></div>
<div style="left:443.77px;top:168px;width:2.3px;height:8px;background:#2ec79f;"></div>
<div style="left:448.01px;top:173px;width:0.5px;height:15px;background:#ef5f6b;"></div>
<div style="left:447.11px;top:175px;width:2.3px;height:12px;background:#ef5f6b;"></div>
<div style="left:451.35px;top:178px;width:0.5px;height:22px;background:#ef5f6b;"></div>
<div style="left:450.45px;top:187px;width:2.3px;height:12px;background:#ef5f6b;"></div>
<div style="left:454.69px;top:184px;width:0.5px;height:21px;background:#2ec79f;"></div>
<div style="left:453.79px;top:187px;width:2.3px;height:17.4px;background:#2ec79f;"></div>
<div style="left:458.03px;top:174px;width:0.5px;height:10px;background:#2ec79f;"></div>
<div style="left:457.13px;top:175.6px;width:2.3px;height:7.4px;background:#2ec79f;"></div>
<div style="left:461.37px;top:158px;width:0.5px;height:8px;background:#c5ccd4;"></div>
<div style="left:460.82px;top:161.6px;width:1.6px;height:0.8px;background:#c5ccd4;"></div>
<div style="left:464.71px;top:151px;width:0.5px;height:27px;background:#ef5f6b;"></div>
<div style="left:463.81px;top:162px;width:2.3px;height:7px;background:#ef5f6b;"></div>
<div style="left:468.05px;top:144px;width:0.5px;height:17px;background:#2ec79f;"></div>
<div style="left:467.15px;top:146px;width:2.3px;height:14px;background:#2ec79f;"></div>
<div style="left:471.39px;top:137px;width:0.5px;height:21px;background:#ef5f6b;"></div>
<div style="left:470.49px;top:141px;width:2.3px;height:16.6px;background:#ef5f6b;"></div>
<div style="left:474.73px;top:148px;width:0.5px;height:24px;background:#ef5f6b;"></div>
<div style="left:473.83px;top:149px;width:2.3px;height:22.6px;background:#ef5f6b;"></div>
<div style="left:478.07px;top:173px;width:0.5px;height:10px;background:#ef5f6b;"></div>
<div style="left:477.17px;top:181.5px;width:2.3px;height:1.5px;background:#ef5f6b;"></div>
<div style="left:481.41px;top:174px;width:0.5px;height:19.599999999999994px;background:#c5ccd4;"></div>
<div style="left:480.86px;top:187.6px;width:1.6px;height:0.8px;background:#c5ccd4;"></div>
<div style="left:484.75px;top:175px;width:0.5px;height:8.5px;background:#2ec79f;"></div>
<div style="left:483.85px;top:181.5px;width:2.3px;height:2.0px;background:#2ec79f;"></div>
<div style="left:49.2px;top:258.92px;width:3.3px;height:0.68px;background:#8a3e4b;"></div>
<div style="left:52.54px;top:258.91px;width:3.3px;height:0.69px;background:#8a3e4b;"></div>
<div style="left:55.88px;top:259.03px;width:3.3px;height:0.57px;background:#8a3e4b;"></div>
<div style="left:59.22px;top:258.78px;width:3.3px;height:0.82px;background:#2f7a63;"></div>
<div style="left:62.56px;top:258.98px;width:3.3px;height:0.62px;background:#8a3e4b;"></div>
<div style="left:65.9px;top:258.82px;width:3.3px;height:0.78px;background:#2f7a63;"></div>
<div style="left:69.24px;top:258.71px;width:3.3px;height:0.89px;background:#8a3e4b;"></div>
<div style="left:72.58px;top:258.85px;width:3.3px;height:0.75px;background:#2f7a63;"></div>
<div style="left:75.92px;top:259.09px;width:3.3px;height:0.51px;background:#2f7a63;"></div>
<div style="left:79.26px;top:259.02px;width:3.3px;height:0.58px;background:#2f7a63;"></div>
<div style="left:82.6px;top:258.91px;width:3.3px;height:0.69px;background:#2f7a63;"></div>
<div style="left:85.94px;top:258.76px;width:3.3px;height:0.84px;background:#2f7a63;"></div>
<div style="left:89.28px;top:258.84px;width:3.3px;height:0.76px;background:#8a3e4b;"></div>
<div style="left:92.62px;top:258.92px;width:3.3px;height:0.68px;background:#8a3e4b;"></div>
<div style="left:95.96px;top:258.7px;width:3.3px;height:0.9px;background:#8a3e4b;"></div>
<div style="left:99.3px;top:258.97px;width:3.3px;height:0.63px;background:#2f7a63;"></div>
<div style="left:102.64px;top:259.07px;width:3.3px;height:0.53px;background:#8a3e4b;"></div>
<div style="left:105.98px;top:258.76px;width:3.3px;height:0.84px;background:#8a3e4b;"></div>
<div style="left:109.32px;top:258.76px;width:3.3px;height:0.84px;background:#2f7a63;"></div>
<div style="left:112.66px;top:259.02px;width:3.3px;height:0.58px;background:#2f7a63;"></div>
<div style="left:116.0px;top:258.91px;width:3.3px;height:0.69px;background:#8a3e4b;"></div>
<div style="left:119.34px;top:259.07px;width:3.3px;height:0.53px;background:#2f7a63;"></div>
<div style="left:122.68px;top:258.79px;width:3.3px;height:0.81px;background:#2f7a63;"></div>
<div style="left:126.02px;top:258.97px;width:3.3px;height:0.63px;background:#2f7a63;"></div>
<div style="left:129.36px;top:258.8px;width:3.3px;height:0.8px;background:#2f7a63;"></div>
<div style="left:132.7px;top:259.06px;width:3.3px;height:0.54px;background:#8a3e4b;"></div>
<div style="left:136.04px;top:259.03px;width:3.3px;height:0.57px;background:#2f7a63;"></div>
<div style="left:139.38px;top:258.92px;width:3.3px;height:0.68px;background:#2f7a63;"></div>
<div style="left:142.72px;top:258.81px;width:3.3px;height:0.79px;background:#8a3e4b;"></div>
<div style="left:146.06px;top:259.05px;width:3.3px;height:0.55px;background:#2f7a63;"></div>
<div style="left:149.4px;top:258.68px;width:3.3px;height:0.92px;background:#2f7a63;"></div>
<div style="left:152.74px;top:258.04px;width:3.3px;height:1.56px;background:#3a2a3b;box-shadow:inset 0 0 0 0.6px #8a3e4b"></div>
<div style="left:156.08px;top:258.75px;width:3.3px;height:0.85px;background:#2f7a63;"></div>
<div style="left:159.42px;top:245.91px;width:3.3px;height:13.69px;background:#1f4441;box-shadow:inset 0 0 0 0.6px #2f7a63"></div>
<div style="left:162.76px;top:252.7px;width:3.3px;height:6.9px;background:#1f4441;box-shadow:inset 0 0 0 0.6px #2f7a63"></div>
<div style="left:166.1px;top:251.68px;width:3.3px;height:7.92px;background:#3a2a3b;box-shadow:inset 0 0 0 0.6px #8a3e4b"></div>
<div style="left:169.44px;top:250.64px;width:3.3px;height:8.96px;background:#1f4441;box-shadow:inset 0 0 0 0.6px #2f7a63"></div>
<div style="left:172.78px;top:252.79px;width:3.3px;height:6.81px;background:#1f4441;box-shadow:inset 0 0 0 0.6px #2f7a63"></div>
<div style="left:176.12px;top:251.41px;width:3.3px;height:8.19px;background:#3a2a3b;box-shadow:inset 0 0 0 0.6px #8a3e4b"></div>
<div style="left:179.46px;top:242.88px;width:3.3px;height:16.72px;background:#3a2a3b;box-shadow:inset 0 0 0 0.6px #8a3e4b"></div>
<div style="left:182.8px;top:242.15px;width:3.3px;height:17.45px;background:#1f4441;box-shadow:inset 0 0 0 0.6px #2f7a63"></div>
<div style="left:186.14px;top:244.68px;width:3.3px;height:14.92px;background:#3a2a3b;box-shadow:inset 0 0 0 0.6px #8a3e4b"></div>
<div style="left:189.48px;top:254.35px;width:3.3px;height:5.25px;background:#3a2a3b;box-shadow:inset 0 0 0 0.6px #8a3e4b"></div>
<div style="left:192.82px;top:248.14px;width:3.3px;height:11.46px;background:#3a2a3b;box-shadow:inset 0 0 0 0.6px #8a3e4b"></div>
<div style="left:196.16px;top:248.66px;width:3.3px;height:10.94px;background:#3a2a3b;box-shadow:inset 0 0 0 0.6px #8a3e4b"></div>
<div style="left:199.5px;top:255.67px;width:3.3px;height:3.93px;background:#1f4441;box-shadow:inset 0 0 0 0.6px #2f7a63"></div>
<div style="left:202.84px;top:247.94px;width:3.3px;height:11.66px;background:#3a2a3b;box-shadow:inset 0 0 0 0.6px #8a3e4b"></div>
<div style="left:206.18px;top:254.29px;width:3.3px;height:5.31px;background:#3a2a3b;box-shadow:inset 0 0 0 0.6px #8a3e4b"></div>
<div style="left:209.52px;top:253.96px;width:3.3px;height:5.64px;background:#1f4441;box-shadow:inset 0 0 0 0.6px #2f7a63"></div>
<div style="left:212.86px;top:255.0px;width:3.3px;height:4.6px;background:#1f4441;box-shadow:inset 0 0 0 0.6px #2f7a63"></div>
<div style="left:216.2px;top:255.8px;width:3.3px;height:3.8px;background:#3a2a3b;box-shadow:inset 0 0 0 0.6px #8a3e4b"></div>
<div style="left:219.54px;top:257.2px;width:3.3px;height:2.4px;background:#1f4441;box-shadow:inset 0 0 0 0.6px #2f7a63"></div>
<div style="left:222.88px;top:257.58px;width:3.3px;height:2.02px;background:#1f4441;box-shadow:inset 0 0 0 0.6px #2f7a63"></div>
<div style="left:226.22px;top:256.37px;width:3.3px;height:3.23px;background:#1f4441;box-shadow:inset 0 0 0 0.6px #2f7a63"></div>
<div style="left:229.56px;top:254.54px;width:3.3px;height:5.06px;background:#3a2a3b;box-shadow:inset 0 0 0 0.6px #8a3e4b"></div>
<div style="left:232.9px;top:254.81px;width:3.3px;height:4.79px;background:#1f4441;box-shadow:inset 0 0 0 0.6px #2f7a63"></div>
<div style="left:236.24px;top:255.93px;width:3.3px;height:3.67px;background:#3a2a3b;box-shadow:inset 0 0 0 0.6px #8a3e4b"></div>
<div style="left:239.58px;top:256.53px;width:3.3px;height:3.07px;background:#1f4441;box-shadow:inset 0 0 0 0.6px #2f7a63"></div>
<div style="left:242.92px;top:258.49px;width:3.3px;height:1.11px;background:#2f7a63;"></div>
<div style="left:246.26px;top:255.87px;width:3.3px;height:3.73px;background:#3a2a3b;box-shadow:inset 0 0 0 0.6px #8a3e4b"></div>
<div style="left:249.6px;top:258.54px;width:3.3px;height:1.06px;background:#8a3e4b;"></div>
<div style="left:252.94px;top:256.41px;width:3.3px;height:3.19px;background:#1f4441;box-shadow:inset 0 0 0 0.6px #2f7a63"></div>
<div style="left:256.28px;top:255.6px;width:3.3px;height:4.0px;background:#3a2a3b;box-shadow:inset 0 0 0 0.6px #8a3e4b"></div>
<div style="left:259.62px;top:256.39px;width:3.3px;height:3.21px;background:#3a2a3b;box-shadow:inset 0 0 0 0.6px #8a3e4b"></div>
<div style="left:262.96px;top:256.49px;width:3.3px;height:3.11px;background:#3a2a3b;box-shadow:inset 0 0 0 0.6px #8a3e4b"></div>
<div style="left:266.3px;top:257.54px;width:3.3px;height:2.06px;background:#1f4441;box-shadow:inset 0 0 0 0.6px #2f7a63"></div>
<div style="left:269.64px;top:255.9px;width:3.3px;height:3.7px;background:#3a2a3b;box-shadow:inset 0 0 0 0.6px #8a3e4b"></div>
<div style="left:272.98px;top:256.23px;width:3.3px;height:3.37px;background:#1f4441;box-shadow:inset 0 0 0 0.6px #2f7a63"></div>
<div style="left:276.32px;top:256.88px;width:3.3px;height:2.72px;background:#3a2a3b;box-shadow:inset 0 0 0 0.6px #8a3e4b"></div>
<div style="left:279.66px;top:256.85px;width:3.3px;height:2.75px;background:#1f4441;box-shadow:inset 0 0 0 0.6px #2f7a63"></div>
<div style="left:283.0px;top:258.36px;width:3.3px;height:1.24px;background:#8a3e4b;"></div>
<div style="left:286.34px;top:255.96px;width:3.3px;height:3.64px;background:#3a2a3b;box-shadow:inset 0 0 0 0.6px #8a3e4b"></div>
<div style="left:289.68px;top:251.72px;width:3.3px;height:7.88px;background:#3a2a3b;box-shadow:inset 0 0 0 0.6px #8a3e4b"></div>
<div style="left:293.02px;top:250.89px;width:3.3px;height:8.71px;background:#3a2a3b;box-shadow:inset 0 0 0 0.6px #8a3e4b"></div>
<div style="left:296.36px;top:257.36px;width:3.3px;height:2.24px;background:#1f4441;box-shadow:inset 0 0 0 0.6px #2f7a63"></div>
<div style="left:299.7px;top:253.75px;width:3.3px;height:5.85px;background:#3a2a3b;box-shadow:inset 0 0 0 0.6px #8a3e4b"></div>
<div style="left:303.04px;top:253.62px;width:3.3px;height:5.98px;background:#3a2a3b;box-shadow:inset 0 0 0 0.6px #8a3e4b"></div>
<div style="left:306.38px;top:255.55px;width:3.3px;height:4.05px;background:#1f4441;box-shadow:inset 0 0 0 0.6px #2f7a63"></div>
<div style="left:309.72px;top:255.19px;width:3.3px;height:4.41px;background:#1f4441;box-shadow:inset 0 0 0 0.6px #2f7a63"></div>
<div style="left:313.06px;top:256.24px;width:3.3px;height:3.36px;background:#3a2a3b;box-shadow:inset 0 0 0 0.6px #8a3e4b"></div>
<div style="left:316.4px;top:254.06px;width:3.3px;height:5.54px;background:#1f4441;box-shadow:inset 0 0 0 0.6px #2f7a63"></div>
<div style="left:319.74px;top:254.98px;width:3.3px;height:4.62px;background:#1f4441;box-shadow:inset 0 0 0 0.6px #2f7a63"></div>
<div style="left:323.08px;top:254.15px;width:3.3px;height:5.45px;background:#1f4441;box-shadow:inset 0 0 0 0.6px #2f7a63"></div>
<div style="left:326.42px;top:250.29px;width:3.3px;height:9.31px;background:#1f4441;box-shadow:inset 0 0 0 0.6px #2f7a63"></div>
<div style="left:329.76px;top:246.22px;width:3.3px;height:13.38px;background:#1f4441;box-shadow:inset 0 0 0 0.6px #2f7a63"></div>
<div style="left:333.1px;top:249.69px;width:3.3px;height:9.91px;background:#3a2a3b;box-shadow:inset 0 0 0 0.6px #8a3e4b"></div>
<div style="left:336.44px;top:239.72px;width:3.3px;height:19.88px;background:#3a2a3b;box-shadow:inset 0 0 0 0.6px #8a3e4b"></div>
<div style="left:339.78px;top:247.72px;width:3.3px;height:11.88px;background:#1f4441;box-shadow:inset 0 0 0 0.6px #2f7a63"></div>
<div style="left:343.12px;top:245.29px;width:3.3px;height:14.31px;background:#1f4441;box-shadow:inset 0 0 0 0.6px #2f7a63"></div>
<div style="left:346.46px;top:248.6px;width:3.3px;height:11.0px;background:#1f4441;box-shadow:inset 0 0 0 0.6px #2f7a63"></div>
<div style="left:349.8px;top:253.85px;width:3.3px;height:5.75px;background:#1f4441;box-shadow:inset 0 0 0 0.6px #2f7a63"></div>
<div style="left:353.14px;top:252.57px;width:3.3px;height:7.03px;background:#1f4441;box-shadow:inset 0 0 0 0.6px #2f7a63"></div>
<div style="left:356.48px;top:254.89px;width:3.3px;height:4.71px;background:#1f4441;box-shadow:inset 0 0 0 0.6px #2f7a63"></div>
<div style="left:359.82px;top:252.36px;width:3.3px;height:7.24px;background:#3a2a3b;box-shadow:inset 0 0 0 0.6px #8a3e4b"></div>
<div style="left:363.16px;top:254.18px;width:3.3px;height:5.42px;background:#1f4441;box-shadow:inset 0 0 0 0.6px #2f7a63"></div>
<div style="left:366.5px;top:239.73px;width:3.3px;height:19.87px;background:#1f4441;box-shadow:inset 0 0 0 0.6px #2f7a63"></div>
<div style="left:369.84px;top:249.56px;width:3.3px;height:10.04px;background:#1f4441;box-shadow:inset 0 0 0 0.6px #2f7a63"></div>
<div style="left:373.18px;top:251.23px;width:3.3px;height:8.37px;background:#1f4441;box-shadow:inset 0 0 0 0.6px #2f7a63"></div>
<div style="left:376.52px;top:249.49px;width:3.3px;height:10.11px;background:#1f4441;box-shadow:inset 0 0 0 0.6px #2f7a63"></div>
<div style="left:379.86px;top:242.16px;width:3.3px;height:17.44px;background:#1f4441;box-shadow:inset 0 0 0 0.6px #2f7a63"></div>
<div style="left:383.2px;top:242.15px;width:3.3px;height:17.45px;background:#3a2a3b;box-shadow:inset 0 0 0 0.6px #8a3e4b"></div>
<div style="left:386.54px;top:237.22px;width:3.3px;height:22.38px;background:#1f4441;box-shadow:inset 0 0 0 0.6px #2f7a63"></div>
<div style="left:389.88px;top:244.47px;width:3.3px;height:15.13px;background:#1f4441;box-shadow:inset 0 0 0 0.6px #2f7a63"></div>
<div style="left:393.22px;top:251.44px;width:3.3px;height:8.16px;background:#1f4441;box-shadow:inset 0 0 0 0.6px #2f7a63"></div>
<div style="left:396.56px;top:240.89px;width:3.3px;height:18.71px;background:#1f4441;box-shadow:inset 0 0 0 0.6px #2f7a63"></div>
<div style="left:399.9px;top:247.51px;width:3.3px;height:12.09px;background:#1f4441;box-shadow:inset 0 0 0 0.6px #2f7a63"></div>
<div style="left:403.24px;top:241.14px;width:3.3px;height:18.46px;background:#3a2a3b;box-shadow:inset 0 0 0 0.6px #8a3e4b"></div>
<div style="left:406.58px;top:240.26px;width:3.3px;height:19.34px;background:#1f4441;box-shadow:inset 0 0 0 0.6px #2f7a63"></div>
<div style="left:409.92px;top:239.72px;width:3.3px;height:19.88px;background:#1f4441;box-shadow:inset 0 0 0 0.6px #2f7a63"></div>
<div style="left:413.26px;top:240.61px;width:3.3px;height:18.99px;background:#1f4441;box-shadow:inset 0 0 0 0.6px #2f7a63"></div>
<div style="left:416.6px;top:252.65px;width:3.3px;height:6.95px;background:#1f4441;box-shadow:inset 0 0 0 0.6px #2f7a63"></div>
<div style="left:419.94px;top:245.22px;width:3.3px;height:14.38px;background:#1f4441;box-shadow:inset 0 0 0 0.6px #2f7a63"></div>
<div style="left:423.28px;top:248.95px;width:3.3px;height:10.65px;background:#3a2a3b;box-shadow:inset 0 0 0 0.6px #8a3e4b"></div>
<div style="left:426.62px;top:242.65px;width:3.3px;height:16.95px;background:#3a2a3b;box-shadow:inset 0 0 0 0.6px #8a3e4b"></div>
<div style="left:429.96px;top:244.83px;width:3.3px;height:14.77px;background:#1f4441;box-shadow:inset 0 0 0 0.6px #2f7a63"></div>
<div style="left:433.3px;top:243.77px;width:3.3px;height:15.83px;background:#3a2a3b;box-shadow:inset 0 0 0 0.6px #8a3e4b"></div>
<div style="left:436.64px;top:243.84px;width:3.3px;height:15.76px;background:#3a2a3b;box-shadow:inset 0 0 0 0.6px #8a3e4b"></div>
<div style="left:439.98px;top:239.89px;width:3.3px;height:19.71px;background:#3a2a3b;box-shadow:inset 0 0 0 0.6px #8a3e4b"></div>
<div style="left:443.32px;top:242.74px;width:3.3px;height:16.86px;background:#1f4441;box-shadow:inset 0 0 0 0.6px #2f7a63"></div>
<div style="left:446.66px;top:240.95px;width:3.3px;height:18.65px;background:#1f4441;box-shadow:inset 0 0 0 0.6px #2f7a63"></div>
<div style="left:450.0px;top:253.36px;width:3.3px;height:6.24px;background:#3a2a3b;box-shadow:inset 0 0 0 0.6px #8a3e4b"></div>
<div style="left:453.34px;top:243.08px;width:3.3px;height:16.52px;background:#1f4441;box-shadow:inset 0 0 0 0.6px #2f7a63"></div>
<div style="left:456.68px;top:254.17px;width:3.3px;height:5.43px;background:#1f4441;box-shadow:inset 0 0 0 0.6px #2f7a63"></div>
<div style="left:460.02px;top:253.64px;width:3.3px;height:5.96px;background:#1f4441;box-shadow:inset 0 0 0 0.6px #2f7a63"></div>
<div style="left:463.36px;top:252.01px;width:3.3px;height:7.59px;background:#3a2a3b;box-shadow:inset 0 0 0 0.6px #8a3e4b"></div>
<div style="left:466.7px;top:252.49px;width:3.3px;height:7.11px;background:#1f4441;box-shadow:inset 0 0 0 0.6px #2f7a63"></div>
<div style="left:470.04px;top:246.85px;width:3.3px;height:12.75px;background:#3a2a3b;box-shadow:inset 0 0 0 0.6px #8a3e4b"></div>
<div style="left:473.38px;top:244.26px;width:3.3px;height:15.34px;background:#3a2a3b;box-shadow:inset 0 0 0 0.6px #8a3e4b"></div>
<div style="left:49.5px;top:181.9px;width:469px;height:0;border-top:0.7px dashed #2a9c8a"></div>
<svg style="left:517px;top:179.6px" width="21" height="5.4" viewBox="0 0 21 5.4"><path d="M0 2.7 L2.4 0 H21 V5.4 H2.4 Z" fill="#2bbd97"/></svg>
<div class="t" style="top:174.40px;font-size:12.80px;line-height:16.00px;color:#ffffff;font-family:'Liberation Sans',sans-serif;font-weight:bold;left:528.2px;transform-origin:50% 50%;transform:translateX(-50%) scale(0.2500,0.2500);">1,151.00</div>
<div class="t" style="left:51.3px;top:249.2px;font-size:6.9px;line-height:7.5px;font-family:'Liberation Sans',sans-serif;font-style:italic;font-weight:bold;letter-spacing:-0.1px"><span style="color:#86c23c">fara</span><span style="color:#e3e7eb">bixo</span></div>
<div style="left:279px;top:244.6px;width:4.4px;height:0.9px;background:#c9d0d8;"></div>
<div style="left:291.3px;top:244.6px;width:4.4px;height:0.9px;background:#c9d0d8;"></div>
<div style="left:293.05px;top:242.85px;width:0.9px;height:4.4px;background:#c9d0d8;"></div>
<div class="t" dir="rtl" style="top:256.11px;font-size:15.18px;line-height:18.97px;color:#7d8a99;font-family:'Liberation Sans',sans-serif;left:52.85px;transform-origin:50% 50%;transform:translateX(-50%) scale(0.2500,0.2500);">فرور</div>
<div class="t" dir="rtl" style="top:256.26px;font-size:14.95px;line-height:18.69px;color:#7d8a99;font-family:'Liberation Sans',sans-serif;left:115.5px;transform-origin:50% 50%;transform:translateX(-50%) scale(0.2500,0.2500);">اردیبهشت</div>
<div class="t" dir="rtl" style="top:256.95px;font-size:13.83px;line-height:17.29px;color:#7d8a99;font-family:'Liberation Sans',sans-serif;left:185.35px;transform-origin:50% 50%;transform:translateX(-50%) scale(0.2500,0.2500);">خرداد</div>
<div class="t" dir="rtl" style="top:257.07px;font-size:13.65px;line-height:17.06px;color:#7d8a99;font-family:'Liberation Sans',sans-serif;left:241.9px;transform-origin:50% 50%;transform:translateX(-50%) scale(0.2500,0.2500);">تیر</div>
<div class="t" dir="rtl" style="top:256.80px;font-size:14.08px;line-height:17.60px;color:#7d8a99;font-family:'Liberation Sans',sans-serif;left:290.25px;transform-origin:50% 50%;transform:translateX(-50%) scale(0.2500,0.2500);">مرداد</div>
<div class="t" dir="rtl" style="top:257.02px;font-size:13.74px;line-height:17.17px;color:#7d8a99;font-family:'Liberation Sans',sans-serif;left:355.5px;transform-origin:50% 50%;transform:translateX(-50%) scale(0.2500,0.2500);">شهریور</div>
<div class="t" dir="rtl" style="top:257.60px;font-size:12.80px;line-height:16.00px;color:#7d8a99;font-family:'Liberation Sans',sans-serif;left:426.7px;transform-origin:50% 50%;transform:translateX(-50%) scale(0.2500,0.2500);">مهر</div>
<div style="left:114.45px;top:259.6px;width:0.5px;height:1.5px;background:#5a697c;"></div>
<div style="left:185.05px;top:259.6px;width:0.5px;height:1.5px;background:#5a697c;"></div>
<div style="left:242.15px;top:259.6px;width:0.5px;height:1.5px;background:#5a697c;"></div>
<div style="left:289.05px;top:259.6px;width:0.5px;height:1.5px;background:#5a697c;"></div>
<div style="left:356.65px;top:259.6px;width:0.5px;height:1.5px;background:#5a697c;"></div>
<div style="left:428.15px;top:259.6px;width:0.5px;height:1.5px;background:#5a697c;"></div>
<div style="left:502.15px;top:259.6px;width:0.5px;height:1.5px;background:#5a697c;"></div>
<div style="left:39.8px;top:273.9px;width:5.7px;height:4px;border-radius:2px;background:#8593a4"></div>
<div style="left:40.5px;top:275.0px;width:1.8px;height:1.8px;border-radius:50%;background:#1b2d40"></div>
<div class="t" dir="rtl" style="top:265.00px;font-size:17.60px;line-height:22.00px;color:#6f7c8c;font-family:'Liberation Sans',sans-serif;left:55.0px;transform-origin:50% 50%;transform:translateX(-50%) scale(0.2500,0.2500);">لگاریتمی</div>
<div style="left:69px;top:273.9px;width:5.7px;height:4px;border-radius:2px;background:#8593a4"></div>
<div style="left:69.7px;top:275.0px;width:1.8px;height:1.8px;border-radius:50%;background:#1b2d40"></div>
<div class="t" dir="rtl" style="top:265.06px;font-size:17.50px;line-height:21.88px;color:#6f7c8c;font-family:'Liberation Sans',sans-serif;left:82.75px;transform-origin:50% 50%;transform:translateX(-50%) scale(0.2500,0.2500);">رویدادها</div>
<div style="left:95.8px;top:273.9px;width:5.7px;height:4px;border-radius:2px;background:#3aa3dc"></div>
<div style="left:99.1px;top:275.0px;width:1.8px;height:1.8px;border-radius:50%;background:#1b2d40"></div>
<div class="t" dir="rtl" style="top:266.27px;font-size:15.56px;line-height:19.45px;color:#3a9fd9;font-family:'Liberation Sans',sans-serif;left:109.4px;transform-origin:50% 50%;transform:translateX(-50%) scale(0.2500,0.2500);">اعتراض</div>
<div style="left:121.4px;top:273.9px;width:5.7px;height:4px;border-radius:2px;background:#3aa3dc"></div>
<div style="left:124.7px;top:275.0px;width:1.8px;height:1.8px;border-radius:50%;background:#1b2d40"></div>
<div class="t" dir="rtl" style="top:267.00px;font-size:14.40px;line-height:17.99px;color:#3a9fd9;font-family:'Liberation Sans',sans-serif;left:138.9px;transform-origin:50% 50%;transform:translateX(-50%) scale(0.2500,0.2500);">دارت اتوماتیک</div>
<div class="t" style="top:267.60px;font-size:12.80px;line-height:16.00px;color:#7d8a99;font-family:'Liberation Sans',sans-serif;left:422.5px;transform-origin:50% 50%;transform:translateX(-50%) scale(0.2500,0.2500);">1D</div>
<div class="t" style="top:267.60px;font-size:12.80px;line-height:16.00px;color:#7d8a99;font-family:'Liberation Sans',sans-serif;left:435px;transform-origin:50% 50%;transform:translateX(-50%) scale(0.2500,0.2500);">5D</div>
<div class="t" style="top:267.60px;font-size:12.80px;line-height:16.00px;color:#7d8a99;font-family:'Liberation Sans',sans-serif;left:448px;transform-origin:50% 50%;transform:translateX(-50%) scale(0.2500,0.2500);">1M</div>
<div class="t" style="top:267.60px;font-size:12.80px;line-height:16.00px;color:#7d8a99;font-family:'Liberation Sans',sans-serif;left:461.5px;transform-origin:50% 50%;transform:translateX(-50%) scale(0.2500,0.2500);">3M</div>
<div class="t" style="top:267.60px;font-size:12.80px;line-height:16.00px;color:#7d8a99;font-family:'Liberation Sans',sans-serif;left:474.5px;transform-origin:50% 50%;transform:translateX(-50%) scale(0.2500,0.2500);">6M</div>
<div class="t" style="top:267.60px;font-size:12.80px;line-height:16.00px;color:#7d8a99;font-family:'Liberation Sans',sans-serif;left:488px;transform-origin:50% 50%;transform:translateX(-50%) scale(0.2500,0.2500);">1Y</div>
<div class="t" style="top:267.60px;font-size:12.80px;line-height:16.00px;color:#c5ccd4;font-family:'Liberation Sans',sans-serif;font-weight:bold;left:530.5px;transform-origin:50% 50%;transform:translateX(-50%) scale(0.2500,0.2500);">All</div>
<div style="left:36px;top:281.5px;width:501.5px;height:1.2px;background:#0f1b27;"></div>
<div style="left:36px;top:282.7px;width:501.5px;height:11.5px;background:#152536;"></div>
<div style="left:437.8px;top:282.7px;width:27.4px;height:11.5px;background:#1b2d40;"></div>
<div class="t" style="top:277.00px;font-size:18.40px;line-height:23.00px;color:#4f5e70;font-family:'Liberation Sans',sans-serif;left:41.6px;transform-origin:50% 50%;transform:translateX(-50%) scale(0.2500,0.2500);">≡</div>
<div style="left:437.8px;top:282.7px;width:27.4px;height:0.8px;background:#3d9fd9;"></div>
<div class="t" dir="rtl" style="top:279.03px;font-size:15.31px;line-height:19.14px;color:#7d8a99;font-family:'Liberation Sans',sans-serif;left:517.85px;transform-origin:50% 50%;transform:translateX(-50%) scale(0.2500,0.2500);">سفارش ها</div>
<div class="t" dir="rtl" style="top:279.18px;font-size:15.07px;line-height:18.84px;color:#7d8a99;font-family:'Liberation Sans',sans-serif;left:483.45px;transform-origin:50% 50%;transform:translateX(-50%) scale(0.2500,0.2500);">معاملات</div>
<div class="t" dir="rtl" style="top:279.62px;font-size:14.36px;line-height:17.95px;color:#e3e8ee;font-family:'Liberation Sans',sans-serif;left:452.25px;transform-origin:50% 50%;transform:translateX(-50%) scale(0.2500,0.2500);">پورتفوی</div>
<div class="t" dir="rtl" style="top:279.03px;font-size:15.31px;line-height:19.14px;color:#7d8a99;font-family:'Liberation Sans',sans-serif;left:414.6px;transform-origin:50% 50%;transform:translateX(-50%) scale(0.2500,0.2500);">پورتفوی مجازی</div>
<div class="t" dir="rtl" style="top:278.14px;font-size:16.74px;line-height:20.93px;color:#aab4c0;font-family:'Liberation Sans',sans-serif;left:369.35px;transform-origin:50% 50%;transform:translateX(-50%) scale(0.2500,0.2500);">معاملات پیشرفته</div>
<div class="t" dir="rtl" style="top:279.01px;font-size:15.34px;line-height:19.17px;color:#415064;font-family:'Liberation Sans',sans-serif;left:325.5px;transform-origin:50% 50%;transform:translateX(-50%) scale(0.2500,0.2500);">وضعیت حساب</div>
<div style="left:36px;top:294.2px;width:501.5px;height:6px;background:#1b2d40;"></div>
<div style="left:36px;top:300px;width:501.5px;height:9.5px;background:#162638;"></div>
<div class="t" dir="rtl" style="top:294.86px;font-size:15.58px;line-height:19.47px;color:#7d8a99;font-family:'Liberation Sans',sans-serif;left:515.5px;transform-origin:50% 50%;transform:translateX(-50%) scale(0.2500,0.2500);">نماد</div>
<div class="t" dir="rtl" style="top:294.27px;font-size:16.52px;line-height:20.65px;color:#7d8a99;font-family:'Liberation Sans',sans-serif;left:470.15px;transform-origin:50% 50%;transform:translateX(-50%) scale(0.2500,0.2500);">تعداد</div>
<div class="t" dir="rtl" style="top:294.23px;font-size:16.60px;line-height:20.75px;color:#7d8a99;font-family:'Liberation Sans',sans-serif;left:424.5px;transform-origin:50% 50%;transform:translateX(-50%) scale(0.2500,0.2500);">خالص میانگین</div>
<div class="t" dir="rtl" style="top:294.44px;font-size:16.26px;line-height:20.32px;color:#7d8a99;font-family:'Liberation Sans',sans-serif;left:378.8px;transform-origin:50% 50%;transform:translateX(-50%) scale(0.2500,0.2500);">میانگین</div>
<div class="t" dir="rtl" style="top:294.80px;font-size:15.67px;line-height:19.59px;color:#7d8a99;font-family:'Liberation Sans',sans-serif;left:317.6px;transform-origin:50% 50%;transform:translateX(-50%) scale(0.2500,0.2500);">جمع خرید</div>
<div class="t" dir="rtl" style="top:294.22px;font-size:16.61px;line-height:20.77px;color:#7d8a99;font-family:'Liberation Sans',sans-serif;left:257.25px;transform-origin:50% 50%;transform:translateX(-50%) scale(0.2500,0.2500);">نقطه سربه سر</div>
<div class="t" dir="rtl" style="top:294.92px;font-size:15.49px;line-height:19.36px;color:#7d8a99;font-family:'Liberation Sans',sans-serif;left:211.8px;transform-origin:50% 50%;transform:translateX(-50%) scale(0.2500,0.2500);">قیمت لحظه ای</div>
<div class="t" dir="rtl" style="top:293.00px;font-size:18.56px;line-height:23.20px;color:#7d8a99;font-family:'Liberation Sans',sans-serif;left:152.85px;transform-origin:50% 50%;transform:translateX(-50%) scale(0.2500,0.2500);">ارزش</div>
<div class="t" dir="rtl" style="top:295.10px;font-size:15.20px;line-height:19.00px;color:#7d8a99;font-family:'Liberation Sans',sans-serif;left:74.65px;transform-origin:50% 50%;transform:translateX(-50%) scale(0.2500,0.2500);">سود/زیان</div>
<div style="left:36px;top:310px;width:501.5px;height:10px;background:#1b2d40;"></div>
<div style="left:36px;top:319.6px;width:501.5px;height:0.5px;background:#22324a;"></div>
<div class="t" dir="rtl" style="top:304.28px;font-size:17.15px;line-height:21.44px;color:#e3e8ee;font-family:'Liberation Sans',sans-serif;left:515.2px;transform-origin:50% 50%;transform:translateX(-50%) scale(0.2500,0.2500);">وآرین</div>
<div class="t" style="top:303.99px;font-size:17.61px;line-height:22.01px;color:#e3e8ee;font-family:'Liberation Serif','DejaVu Serif',serif;left:470.2px;transform-origin:50% 50%;transform:translateX(-50%) scale(0.2500,0.2500);">7,150</div>
<div class="t" style="top:303.99px;font-size:17.61px;line-height:22.01px;color:#e3e8ee;font-family:'Liberation Serif','DejaVu Serif',serif;left:424.2px;transform-origin:50% 50%;transform:translateX(-50%) scale(0.2500,0.2500);">1,287</div>
<div class="t" style="top:303.99px;font-size:17.61px;line-height:22.01px;color:#e3e8ee;font-family:'Liberation Serif','DejaVu Serif',serif;left:378.3px;transform-origin:50% 50%;transform:translateX(-50%) scale(0.2500,0.2500);">1,293</div>
<div class="t" style="top:303.99px;font-size:17.61px;line-height:22.01px;color:#e3e8ee;font-family:'Liberation Serif','DejaVu Serif',serif;left:317.9px;transform-origin:50% 50%;transform:translateX(-50%) scale(0.2500,0.2500);">9,243,627</div>
<div class="t" style="top:303.99px;font-size:17.61px;line-height:22.01px;color:#e3e8ee;font-family:'Liberation Serif','DejaVu Serif',serif;left:257.1px;transform-origin:50% 50%;transform:translateX(-50%) scale(0.2500,0.2500);">1,388</div>
<div class="t" style="top:303.99px;font-size:17.61px;line-height:22.01px;color:#e3e8ee;font-family:'Liberation Serif','DejaVu Serif',serif;left:212.0px;transform-origin:50% 50%;transform:translateX(-50%) scale(0.2500,0.2500);">1,151</div>
<div class="t" style="top:303.99px;font-size:17.61px;line-height:22.01px;color:#e3e8ee;font-family:'Liberation Serif','DejaVu Serif',serif;left:151.0px;transform-origin:50% 50%;transform:translateX(-50%) scale(0.2500,0.2500);">8,152,330</div>
<div class="t" style="top:303.94px;font-size:17.69px;line-height:22.12px;color:#ea5d69;font-family:'Liberation Serif','DejaVu Serif',serif;left:74.6px;transform-origin:50% 50%;transform:translateX(-50%) scale(0.2500,0.2500);">1,865,356 (11.52%)</div>
<div style="left:36px;top:320px;width:501.5px;height:10px;background:#1b2d40;"></div>
<div style="left:36px;top:329.6px;width:501.5px;height:0.5px;background:#22324a;"></div>
<div class="t" dir="rtl" style="top:315.31px;font-size:15.50px;line-height:19.38px;color:#e3e8ee;font-family:'Liberation Sans',sans-serif;left:516.2px;transform-origin:50% 50%;transform:translateX(-50%) scale(0.2500,0.2500);">خلوه</div>
<div class="t" style="top:313.99px;font-size:17.61px;line-height:22.01px;color:#e3e8ee;font-family:'Liberation Serif','DejaVu Serif',serif;left:470.2px;transform-origin:50% 50%;transform:translateX(-50%) scale(0.2500,0.2500);">174</div>
<div class="t" style="top:313.99px;font-size:17.61px;line-height:22.01px;color:#e3e8ee;font-family:'Liberation Serif','DejaVu Serif',serif;left:424.2px;transform-origin:50% 50%;transform:translateX(-50%) scale(0.2500,0.2500);">3,300</div>
<div class="t" style="top:313.99px;font-size:17.61px;line-height:22.01px;color:#e3e8ee;font-family:'Liberation Serif','DejaVu Serif',serif;left:378.3px;transform-origin:50% 50%;transform:translateX(-50%) scale(0.2500,0.2500);">3,315</div>
<div class="t" style="top:314.00px;font-size:17.60px;line-height:22.00px;color:#e3e8ee;font-family:'Liberation Serif','DejaVu Serif',serif;left:317.9px;transform-origin:50% 50%;transform:translateX(-50%) scale(0.2500,0.2500);">576,887</div>
<div class="t" style="top:313.99px;font-size:17.61px;line-height:22.01px;color:#e3e8ee;font-family:'Liberation Serif','DejaVu Serif',serif;left:257.1px;transform-origin:50% 50%;transform:translateX(-50%) scale(0.2500,0.2500);">3,335</div>
<div class="t" style="top:313.99px;font-size:17.61px;line-height:22.01px;color:#e3e8ee;font-family:'Liberation Serif','DejaVu Serif',serif;left:212.0px;transform-origin:50% 50%;transform:translateX(-50%) scale(0.2500,0.2500);">4,602</div>
<div class="t" style="top:314.00px;font-size:17.60px;line-height:22.00px;color:#e3e8ee;font-family:'Liberation Serif','DejaVu Serif',serif;left:151.0px;transform-origin:50% 50%;transform:translateX(-50%) scale(0.2500,0.2500);">792,348</div>
<div class="t" style="top:313.99px;font-size:17.61px;line-height:22.01px;color:#25c29c;font-family:'Liberation Serif','DejaVu Serif',serif;left:74.6px;transform-origin:50% 50%;transform:translateX(-50%) scale(0.2500,0.2500);">220,455 (38.22%)</div>
<div style="left:36px;top:330px;width:501.5px;height:10px;background:#1b2d40;"></div>
<div style="left:36px;top:339.6px;width:501.5px;height:0.5px;background:#22324a;"></div>
<div class="t" dir="rtl" style="top:325.68px;font-size:14.92px;line-height:18.65px;color:#e3e8ee;font-family:'Liberation Sans',sans-serif;left:514.9px;transform-origin:50% 50%;transform:translateX(-50%) scale(0.2500,0.2500);">زپارس</div>
<div class="t" style="top:323.99px;font-size:17.61px;line-height:22.01px;color:#e3e8ee;font-family:'Liberation Serif','DejaVu Serif',serif;left:470.2px;transform-origin:50% 50%;transform:translateX(-50%) scale(0.2500,0.2500);">155</div>
<div class="t" style="top:323.99px;font-size:17.61px;line-height:22.01px;color:#e3e8ee;font-family:'Liberation Serif','DejaVu Serif',serif;left:424.2px;transform-origin:50% 50%;transform:translateX(-50%) scale(0.2500,0.2500);">3,500</div>
<div class="t" style="top:323.99px;font-size:17.61px;line-height:22.01px;color:#e3e8ee;font-family:'Liberation Serif','DejaVu Serif',serif;left:378.3px;transform-origin:50% 50%;transform:translateX(-50%) scale(0.2500,0.2500);">3,516</div>
<div class="t" style="top:324.00px;font-size:17.60px;line-height:22.00px;color:#e3e8ee;font-family:'Liberation Serif','DejaVu Serif',serif;left:317.9px;transform-origin:50% 50%;transform:translateX(-50%) scale(0.2500,0.2500);">545,817</div>
<div class="t" style="top:323.99px;font-size:17.61px;line-height:22.01px;color:#e3e8ee;font-family:'Liberation Serif','DejaVu Serif',serif;left:257.1px;transform-origin:50% 50%;transform:translateX(-50%) scale(0.2500,0.2500);">3,537</div>
<div class="t" style="top:323.99px;font-size:17.61px;line-height:22.01px;color:#e3e8ee;font-family:'Liberation Serif','DejaVu Serif',serif;left:212.0px;transform-origin:50% 50%;transform:translateX(-50%) scale(0.2500,0.2500);">4,534</div>
<div class="t" style="top:324.00px;font-size:17.60px;line-height:22.00px;color:#e3e8ee;font-family:'Liberation Serif','DejaVu Serif',serif;left:151.0px;transform-origin:50% 50%;transform:translateX(-50%) scale(0.2500,0.2500);">688,729</div>
<div class="t" style="top:323.99px;font-size:17.61px;line-height:22.01px;color:#25c29c;font-family:'Liberation Serif','DejaVu Serif',serif;left:74.6px;transform-origin:50% 50%;transform:translateX(-50%) scale(0.2500,0.2500);">154,535 (28.35%)</div>
<div style="left:36px;top:350.5px;width:633px;height:1.2px;background:#0f1b27;"></div>
<div style="left:36px;top:351.7px;width:633px;height:10.8px;background:#1b2d40;"></div>
<div class="t" style="top:345.70px;font-size:18.40px;line-height:23.00px;color:#4f5e70;font-family:'Liberation Sans',sans-serif;left:41.6px;transform-origin:50% 50%;transform:translateX(-50%) scale(0.2500,0.2500);">≡</div>
<div class="t" dir="rtl" style="top:345.42px;font-size:18.85px;line-height:23.56px;color:#aeb8c3;font-family:'Liberation Sans',sans-serif;left:658.45px;transform-origin:50% 50%;transform:translateX(-50%) scale(0.2500,0.2500);">پرتفوی</div>
<div class="t" style="top:346.63px;font-size:16.91px;line-height:21.14px;color:#e3e8ee;font-family:'Liberation Sans',sans-serif;left:640.6px;transform-origin:50% 50%;transform:translateX(-50%) scale(0.2500,0.2500);">9,673,395</div>
<div class="t" style="top:348.55px;font-size:13.84px;line-height:17.30px;color:#ea5d69;font-family:'Liberation Sans',sans-serif;left:622.25px;transform-origin:50% 50%;transform:translateX(-50%) scale(0.2500,0.2500);">690,287</div>
<div class="t" style="top:348.56px;font-size:13.83px;line-height:17.28px;color:#ea5d69;font-family:'Liberation Sans',sans-serif;left:608.85px;transform-origin:50% 50%;transform:translateX(-50%) scale(0.2500,0.2500);">(7%)</div>
<div class="t" dir="rtl" style="top:350.96px;font-size:9.99px;line-height:12.48px;color:#aeb8c3;font-family:'Liberation Sans',sans-serif;left:593.6px;transform-origin:50% 50%;transform:translateX(-50%) scale(0.2500,0.2500);">مانده مشتری</div>
<div class="t" style="top:347.11px;font-size:16.15px;line-height:20.18px;color:#e3e8ee;font-family:'Liberation Sans',sans-serif;left:572.3px;transform-origin:50% 50%;transform:translateX(-50%) scale(0.2500,0.2500);">3,118</div>
<div class="t" dir="rtl" style="top:349.16px;font-size:12.87px;line-height:16.09px;color:#aeb8c3;font-family:'Liberation Sans',sans-serif;left:553.8px;transform-origin:50% 50%;transform:translateX(-50%) scale(0.2500,0.2500);">خالص دارایی</div>
<div class="t" style="top:346.85px;font-size:16.57px;line-height:20.71px;color:#e3e8ee;font-family:'Liberation Sans',sans-serif;left:530.6px;transform-origin:50% 50%;transform:translateX(-50%) scale(0.2500,0.2500);">9,675,517</div>
<div class="t" dir="rtl" style="top:350.02px;font-size:11.49px;line-height:14.36px;color:#aeb8c3;font-family:'Liberation Sans',sans-serif;left:510.75px;transform-origin:50% 50%;transform:translateX(-50%) scale(0.2500,0.2500);">بلوکه شده</div>
<div class="t" style="top:346.28px;font-size:17.47px;line-height:21.84px;color:#e3e8ee;font-family:'Liberation Sans',sans-serif;left:467.5px;transform-origin:50% 50%;transform:translateX(-50%) scale(0.2500,0.2500);">3,118</div>
<div class="t" dir="rtl" style="top:349.46px;font-size:12.39px;line-height:15.49px;color:#aeb8c3;font-family:'Liberation Sans',sans-serif;left:485.8px;transform-origin:50% 50%;transform:translateX(-50%) scale(0.2500,0.2500);">قدرت خرید</div>
<div class="t" style="top:348.20px;font-size:14.40px;line-height:18.00px;color:#e3e8ee;font-family:'Liberation Sans',sans-serif;left:498px;transform-origin:50% 50%;transform:translateX(-50%) scale(0.2500,0.2500);">0</div>
<div style="left:602.7px;top:354.6px;width:0.5px;height:5.199999999999989px;background:#8b97a5;"></div>
<div style="left:564.7px;top:354.6px;width:0.5px;height:5.199999999999989px;background:#8b97a5;"></div>
<div style="left:518.9px;top:354.6px;width:0.5px;height:5.199999999999989px;background:#8b97a5;"></div>
<div style="left:494.3px;top:354.6px;width:0.5px;height:5.199999999999989px;background:#8b97a5;"></div>
<div style="left:460px;top:354.6px;width:0.5px;height:5.199999999999989px;background:#8b97a5;"></div>
<div class="t" style="top:346.70px;font-size:16.80px;line-height:21.00px;color:#8b97a5;font-family:'Liberation Sans',sans-serif;left:455.5px;transform-origin:50% 50%;transform:translateX(-50%) scale(0.2500,0.2500);">‹</div>
<div style="left:539px;top:54.5px;width:130px;height:296px;background:#1b2d40;"></div>
<svg style="left:544px;top:59.6px" width="3.4" height="2.4" viewBox="0 0 3.4 2.4"><path d="M0.4 0.4 L1.7 1.8 L3 0.4" fill="none" stroke="#a9b4c1" stroke-width="0.5"/></svg>
<div style="left:539px;top:66.8px;width:130px;height:0.8px;background:#142434;"></div>
<div class="t" dir="rtl" style="top:62.83px;font-size:14.83px;line-height:18.54px;color:#6e7c8d;font-family:'Liberation Sans',sans-serif;left:568.9px;transform-origin:50% 50%;transform:translateX(-50%) scale(0.2500,0.2500);">تغییرات PNT</div>
<div class="t" dir="rtl" style="top:62.11px;font-size:15.98px;line-height:19.98px;color:#6e7c8d;font-family:'Liberation Sans',sans-serif;left:603.35px;transform-origin:50% 50%;transform:translateX(-50%) scale(0.2500,0.2500);">قیمت</div>
<div style="left:539px;top:87px;width:130px;height:9.5px;background:#101d2b;"></div>
<div class="t" dir="rtl" style="top:71.45px;font-size:17.84px;line-height:22.29px;color:#e3e8ee;font-family:'Liberation Sans',sans-serif;left:658.35px;transform-origin:50% 50%;transform:translateX(-50%) scale(0.2500,0.2500);">زپارس</div>
<div class="t" style="top:70.27px;font-size:19.72px;line-height:24.65px;color:#e3e8ee;font-family:'Liberation Serif','DejaVu Serif',serif;font-weight:bold;left:603.35px;transform-origin:50% 50%;transform:translateX(-50%) scale(0.2500,0.2500);">4,334</div>
<div class="t" style="top:70.27px;font-size:19.72px;line-height:24.65px;color:#25c29c;font-family:'Liberation Serif','DejaVu Serif',serif;left:550.85px;transform-origin:50% 50%;transform:translateX(-50%) scale(0.2500,0.2500);">(4.09%)</div>
<div class="t" style="top:73.46px;font-size:12.54px;line-height:15.68px;color:#25c29c;font-family:'Liberation Serif','DejaVu Serif',serif;left:562.35px;transform-origin:50% 50%;transform:translateX(-50%) scale(0.2500,0.2500);">175</div>
<div class="t" dir="rtl" style="top:80.75px;font-size:18.64px;line-height:23.30px;color:#e3e8ee;font-family:'Liberation Sans',sans-serif;left:659.35px;transform-origin:50% 50%;transform:translateX(-50%) scale(0.2500,0.2500);">وآرین</div>
<div class="t" style="top:80.08px;font-size:19.72px;line-height:24.65px;color:#e3e8ee;font-family:'Liberation Serif','DejaVu Serif',serif;font-weight:bold;left:603.35px;transform-origin:50% 50%;transform:translateX(-50%) scale(0.2500,0.2500);">1,151</div>
<div class="t" style="top:80.08px;font-size:19.72px;line-height:24.65px;color:#25c29c;font-family:'Liberation Serif','DejaVu Serif',serif;left:550.85px;transform-origin:50% 50%;transform:translateX(-50%) scale(0.2500,0.2500);">(0.52%)</div>
<div class="t" style="top:83.10px;font-size:12.80px;line-height:16.00px;color:#25c29c;font-family:'Liberation Serif','DejaVu Serif',serif;left:560.8px;transform-origin:50% 50%;transform:translateX(-50%) scale(0.2500,0.2500);">6</div>
<div class="t" dir="rtl" style="top:91.55px;font-size:16.72px;line-height:20.90px;color:#e3e8ee;font-family:'Liberation Sans',sans-serif;left:660.3px;transform-origin:50% 50%;transform:translateX(-50%) scale(0.2500,0.2500);">خلوه</div>
<div class="t" style="top:89.67px;font-size:19.72px;line-height:24.65px;color:#e3e8ee;font-family:'Liberation Serif','DejaVu Serif',serif;font-weight:bold;left:603.35px;transform-origin:50% 50%;transform:translateX(-50%) scale(0.2500,0.2500);">4,602</div>
<div class="t" style="top:89.67px;font-size:19.72px;line-height:24.65px;color:#ea5d69;font-family:'Liberation Serif','DejaVu Serif',serif;left:550.85px;transform-origin:50% 50%;transform:translateX(-50%) scale(0.2500,0.2500);">(3.79%)</div>
<div class="t" style="top:92.69px;font-size:12.82px;line-height:16.02px;color:#ea5d69;font-family:'Liberation Serif','DejaVu Serif',serif;left:561.6px;transform-origin:50% 50%;transform:translateX(-50%) scale(0.2500,0.2500);">17</div>
<div style="left:539px;top:168.7px;width:130px;height:10.1px;background:#142434;"></div>
<div class="t" style="top:154.82px;font-size:30.05px;line-height:37.56px;color:#eef2f6;font-family:'Liberation Sans',sans-serif;font-weight:bold;left:550.8px;transform-origin:50% 50%;transform:translateX(-50%) scale(0.2500,0.2500);">1,151</div>
<div class="t" style="top:161.68px;font-size:20.03px;line-height:25.04px;color:#25c29c;font-family:'Liberation Sans',sans-serif;left:572.65px;transform-origin:50% 50%;transform:translateX(-50%) scale(0.2500,0.2500);">6 (0.52%)</div>
<div class="t" dir="rtl" style="top:160.49px;font-size:20.98px;line-height:26.23px;color:#e8edf2;font-family:'Liberation Sans',sans-serif;left:659.35px;transform-origin:50% 50%;transform:translateX(-50%) scale(0.2500,0.2500);">وآرین</div>
<svg style="left:645.6px;top:170.9px" width="5.8" height="5.8" viewBox="0 0 6 6"><circle cx="3" cy="3" r="2.4" fill="none" stroke="#25c29c" stroke-width="0.7"/><path d="M1.8 3 L2.7 3.9 L4.3 2.1" fill="none" stroke="#25c29c" stroke-width="0.7"/></svg>
<svg style="left:638.8px;top:171.5px" width="4" height="4" viewBox="0 0 4 4"><path d="M0.5 3.5 L3.5 0.5" stroke="#8f9baa" stroke-width="0.8"/></svg>
<div class="t" style="top:170.81px;font-size:23.03px;line-height:28.78px;color:#dfe5eb;font-family:'Liberation Sans',sans-serif;font-weight:bold;left:548.6px;transform-origin:50% 50%;transform:translateX(-50%) scale(0.2500,0.2500);">1,182</div>
<div class="t" style="top:174.87px;font-size:16.68px;line-height:20.85px;color:#25c29c;font-family:'Liberation Sans',sans-serif;left:567.5px;transform-origin:50% 50%;transform:translateX(-50%) scale(0.2500,0.2500);">37 (3.22%)</div>
<div class="t" dir="rtl" style="top:174.82px;font-size:16.61px;line-height:20.76px;color:#cfd6de;font-family:'Liberation Sans',sans-serif;left:660.65px;transform-origin:50% 50%;transform:translateX(-50%) scale(0.2500,0.2500);">پایانی</div>
<div style="left:544.7px;top:196.9px;width:118.3px;height:1.8px;background:#36465a;"></div>
<div style="left:600px;top:196.9px;width:31.3px;height:1.8px;background:#2ec4a0;"></div>
<svg style="left:602.3px;top:191.8px" width="3" height="4" viewBox="0 0 3 4"><path d="M1.5 4 L0.2 1.8 A1.3 1.3 0 1 1 2.8 1.8 Z" fill="#3d9fd9"/></svg>
<div class="t" style="top:187.10px;font-size:10.40px;line-height:13.00px;color:#6e7c8d;font-family:'Liberation Sans',sans-serif;left:606.2px;transform-origin:0 50%;transform:scale(0.2500,0.2500);">0</div>
<div class="t" style="top:191.51px;font-size:15.51px;line-height:19.38px;color:#eef2f6;font-family:'Liberation Sans',sans-serif;font-weight:bold;left:549.55px;transform-origin:50% 50%;transform:translateX(-50%) scale(0.2500,0.2500);">1,005</div>
<div class="t" style="top:191.51px;font-size:15.51px;line-height:19.38px;color:#eef2f6;font-family:'Liberation Sans',sans-serif;font-weight:bold;left:658.05px;transform-origin:50% 50%;transform:translateX(-50%) scale(0.2500,0.2500);">1,259</div>
<div class="t" dir="rtl" style="top:193.29px;font-size:12.65px;line-height:15.81px;color:#6e7c8d;font-family:'Liberation Sans',sans-serif;left:603.6px;transform-origin:50% 50%;transform:translateX(-50%) scale(0.2500,0.2500);">قیمت مجاز روزانه</div>
<div style="left:541px;top:214.2px;width:126px;height:0.5px;background:#22324a;"></div>
<div class="t" dir="rtl" style="top:208.31px;font-size:16.15px;line-height:20.18px;color:#56657a;font-family:'Liberation Sans',sans-serif;left:548.3px;transform-origin:50% 50%;transform:translateX(-50%) scale(0.2500,0.2500);">تعداد</div>
<div class="t" dir="rtl" style="top:209.72px;font-size:13.89px;line-height:17.36px;color:#56657a;font-family:'Liberation Sans',sans-serif;left:567.5px;transform-origin:50% 50%;transform:translateX(-50%) scale(0.2500,0.2500);">حجم</div>
<div class="t" dir="rtl" style="top:208.72px;font-size:15.48px;line-height:19.35px;color:#56657a;font-family:'Liberation Sans',sans-serif;left:592.4px;transform-origin:50% 50%;transform:translateX(-50%) scale(0.2500,0.2500);">قیمت</div>
<div class="t" dir="rtl" style="top:208.72px;font-size:15.48px;line-height:19.35px;color:#56657a;font-family:'Liberation Sans',sans-serif;left:614.6px;transform-origin:50% 50%;transform:translateX(-50%) scale(0.2500,0.2500);">قیمت</div>
<div class="t" dir="rtl" style="top:209.72px;font-size:13.89px;line-height:17.36px;color:#56657a;font-family:'Liberation Sans',sans-serif;left:638.6px;transform-origin:50% 50%;transform:translateX(-50%) scale(0.2500,0.2500);">حجم</div>
<div class="t" dir="rtl" style="top:208.31px;font-size:16.15px;line-height:20.18px;color:#56657a;font-family:'Liberation Sans',sans-serif;left:658.6px;transform-origin:50% 50%;transform:translateX(-50%) scale(0.2500,0.2500);">تعداد</div>
<div style="left:541px;top:223.4px;width:126px;height:8.4px;background:#1d3044;"></div>
<div class="t" style="top:216.80px;font-size:17.28px;line-height:21.60px;color:#e3e8ee;font-family:'Liberation Serif','DejaVu Serif',serif;left:548.2px;transform-origin:50% 50%;transform:translateX(-50%) scale(0.2500,0.2500);">2</div>
<div class="t" style="top:216.82px;font-size:17.25px;line-height:21.56px;color:#e3e8ee;font-family:'Liberation Serif','DejaVu Serif',serif;left:568.2px;transform-origin:50% 50%;transform:translateX(-50%) scale(0.2500,0.2500);">6,147</div>
<div class="t" style="top:216.82px;font-size:17.25px;line-height:21.56px;color:#ea5d69;font-family:'Liberation Serif','DejaVu Serif',serif;left:592.6px;transform-origin:50% 50%;transform:translateX(-50%) scale(0.2500,0.2500);">1,170</div>
<div class="t" style="top:216.82px;font-size:17.25px;line-height:21.56px;color:#3d9fd9;font-family:'Liberation Serif','DejaVu Serif',serif;left:615.2px;transform-origin:50% 50%;transform:translateX(-50%) scale(0.2500,0.2500);">1,150</div>
<div class="t" style="top:216.81px;font-size:17.26px;line-height:21.58px;color:#e3e8ee;font-family:'Liberation Serif','DejaVu Serif',serif;left:639.4px;transform-origin:50% 50%;transform:translateX(-50%) scale(0.2500,0.2500);">65,500</div>
<div class="t" style="top:216.80px;font-size:17.28px;line-height:21.60px;color:#e3e8ee;font-family:'Liberation Serif','DejaVu Serif',serif;left:659.0px;transform-origin:50% 50%;transform:translateX(-50%) scale(0.2500,0.2500);">3</div>
<div style="left:541px;top:232.10000000000002px;width:126px;height:8.4px;background:#16273a;"></div>
<div class="t" style="top:225.50px;font-size:17.28px;line-height:21.60px;color:#e3e8ee;font-family:'Liberation Serif','DejaVu Serif',serif;left:548.2px;transform-origin:50% 50%;transform:translateX(-50%) scale(0.2500,0.2500);">1</div>
<div class="t" style="top:225.52px;font-size:17.25px;line-height:21.56px;color:#e3e8ee;font-family:'Liberation Serif','DejaVu Serif',serif;left:568.2px;transform-origin:50% 50%;transform:translateX(-50%) scale(0.2500,0.2500);">1,000</div>
<div class="t" style="top:225.52px;font-size:17.25px;line-height:21.56px;color:#ea5d69;font-family:'Liberation Serif','DejaVu Serif',serif;left:592.6px;transform-origin:50% 50%;transform:translateX(-50%) scale(0.2500,0.2500);">1,176</div>
<div class="t" style="top:225.52px;font-size:17.25px;line-height:21.56px;color:#3d9fd9;font-family:'Liberation Serif','DejaVu Serif',serif;left:615.2px;transform-origin:50% 50%;transform:translateX(-50%) scale(0.2500,0.2500);">1,145</div>
<div class="t" style="top:225.39px;font-size:17.46px;line-height:21.82px;color:#e3e8ee;font-family:'Liberation Serif','DejaVu Serif',serif;left:639.4px;transform-origin:50% 50%;transform:translateX(-50%) scale(0.2500,0.2500);">110,000</div>
<div class="t" style="top:225.50px;font-size:17.28px;line-height:21.60px;color:#e3e8ee;font-family:'Liberation Serif','DejaVu Serif',serif;left:659.0px;transform-origin:50% 50%;transform:translateX(-50%) scale(0.2500,0.2500);">2</div>
<div style="left:541px;top:240.70000000000002px;width:126px;height:8.4px;background:#1d3044;"></div>
<div class="t" style="top:234.10px;font-size:17.28px;line-height:21.60px;color:#e3e8ee;font-family:'Liberation Serif','DejaVu Serif',serif;left:548.2px;transform-origin:50% 50%;transform:translateX(-50%) scale(0.2500,0.2500);">1</div>
<div class="t" style="top:234.11px;font-size:17.26px;line-height:21.58px;color:#e3e8ee;font-family:'Liberation Serif','DejaVu Serif',serif;left:568.2px;transform-origin:50% 50%;transform:translateX(-50%) scale(0.2500,0.2500);">10,000</div>
<div class="t" style="top:234.12px;font-size:17.25px;line-height:21.56px;color:#ea5d69;font-family:'Liberation Serif','DejaVu Serif',serif;left:592.6px;transform-origin:50% 50%;transform:translateX(-50%) scale(0.2500,0.2500);">1,180</div>
<div class="t" style="top:234.12px;font-size:17.25px;line-height:21.56px;color:#3d9fd9;font-family:'Liberation Serif','DejaVu Serif',serif;left:615.2px;transform-origin:50% 50%;transform:translateX(-50%) scale(0.2500,0.2500);">1,140</div>
<div class="t" style="top:234.11px;font-size:17.26px;line-height:21.58px;color:#e3e8ee;font-family:'Liberation Serif','DejaVu Serif',serif;left:639.4px;transform-origin:50% 50%;transform:translateX(-50%) scale(0.2500,0.2500);">30,000</div>
<div class="t" style="top:234.10px;font-size:17.28px;line-height:21.60px;color:#e3e8ee;font-family:'Liberation Serif','DejaVu Serif',serif;left:659.0px;transform-origin:50% 50%;transform:translateX(-50%) scale(0.2500,0.2500);">1</div>
<div style="left:541px;top:249.0px;width:126px;height:8.4px;background:#16273a;"></div>
<div class="t" style="top:242.40px;font-size:17.28px;line-height:21.60px;color:#e3e8ee;font-family:'Liberation Serif','DejaVu Serif',serif;left:548.2px;transform-origin:50% 50%;transform:translateX(-50%) scale(0.2500,0.2500);">1</div>
<div class="t" style="top:242.41px;font-size:17.26px;line-height:21.58px;color:#e3e8ee;font-family:'Liberation Serif','DejaVu Serif',serif;left:568.2px;transform-origin:50% 50%;transform:translateX(-50%) scale(0.2500,0.2500);">19,000</div>
<div class="t" style="top:242.42px;font-size:17.25px;line-height:21.56px;color:#ea5d69;font-family:'Liberation Serif','DejaVu Serif',serif;left:592.6px;transform-origin:50% 50%;transform:translateX(-50%) scale(0.2500,0.2500);">1,181</div>
<div class="t" style="top:242.42px;font-size:17.25px;line-height:21.56px;color:#3d9fd9;font-family:'Liberation Serif','DejaVu Serif',serif;left:615.2px;transform-origin:50% 50%;transform:translateX(-50%) scale(0.2500,0.2500);">1,129</div>
<div class="t" style="top:242.42px;font-size:17.25px;line-height:21.56px;color:#e3e8ee;font-family:'Liberation Serif','DejaVu Serif',serif;left:639.4px;transform-origin:50% 50%;transform:translateX(-50%) scale(0.2500,0.2500);">5,000</div>
<div class="t" style="top:242.40px;font-size:17.28px;line-height:21.60px;color:#e3e8ee;font-family:'Liberation Serif','DejaVu Serif',serif;left:659.0px;transform-origin:50% 50%;transform:translateX(-50%) scale(0.2500,0.2500);">2</div>
<div style="left:541px;top:257.2px;width:126px;height:8.4px;background:#1d3044;"></div>
<div class="t" style="top:250.60px;font-size:17.28px;line-height:21.60px;color:#e3e8ee;font-family:'Liberation Serif','DejaVu Serif',serif;left:548.2px;transform-origin:50% 50%;transform:translateX(-50%) scale(0.2500,0.2500);">1</div>
<div class="t" style="top:250.61px;font-size:17.26px;line-height:21.58px;color:#e3e8ee;font-family:'Liberation Serif','DejaVu Serif',serif;left:568.2px;transform-origin:50% 50%;transform:translateX(-50%) scale(0.2500,0.2500);">40,000</div>
<div class="t" style="top:250.62px;font-size:17.25px;line-height:21.56px;color:#ea5d69;font-family:'Liberation Serif','DejaVu Serif',serif;left:592.6px;transform-origin:50% 50%;transform:translateX(-50%) scale(0.2500,0.2500);">1,183</div>
<div class="t" style="top:250.43px;font-size:17.55px;line-height:21.94px;color:#3d9fd9;font-family:'Liberation Serif','DejaVu Serif',serif;left:615.2px;transform-origin:50% 50%;transform:translateX(-50%) scale(0.2500,0.2500);">1,118</div>
<div class="t" style="top:250.62px;font-size:17.25px;line-height:21.56px;color:#e3e8ee;font-family:'Liberation Serif','DejaVu Serif',serif;left:639.4px;transform-origin:50% 50%;transform:translateX(-50%) scale(0.2500,0.2500);">8,000</div>
<div class="t" style="top:250.60px;font-size:17.28px;line-height:21.60px;color:#e3e8ee;font-family:'Liberation Serif','DejaVu Serif',serif;left:659.0px;transform-origin:50% 50%;transform:translateX(-50%) scale(0.2500,0.2500);">2</div>
<div style="left:540.8px;top:269.7px;width:55.2px;height:4.9px;background:#d4616b;"></div>
<div class="t" style="top:262.42px;font-size:15.65px;line-height:19.56px;color:#fff;font-family:'Liberation Sans',sans-serif;font-weight:bold;left:568.25px;transform-origin:50% 50%;transform:translateX(-50%) scale(0.2500,0.2500);">66 X 2.3M (100%)</div>
<div style="left:610.4px;top:269.7px;width:55.2px;height:4.9px;background:#3c9bd2;"></div>
<div class="t" style="top:262.70px;font-size:15.19px;line-height:18.99px;color:#fff;font-family:'Liberation Sans',sans-serif;font-weight:bold;left:638.1px;transform-origin:50% 50%;transform:translateX(-50%) scale(0.2500,0.2500);">38 X 2.3M (100%)</div>
<div class="t" dir="rtl" style="top:263.70px;font-size:13.61px;line-height:17.01px;color:#dfe5eb;font-family:'Liberation Sans',sans-serif;font-weight:bold;left:602.85px;transform-origin:50% 50%;transform:translateX(-50%) scale(0.2500,0.2500);">حقیقی</div>
<div class="t" style="top:269.66px;font-size:15.59px;line-height:19.48px;color:#b7c1cc;font-family:'Liberation Sans',sans-serif;left:568.5px;transform-origin:50% 50%;transform:translateX(-50%) scale(0.2500,0.2500);">0 X 0 (0%)</div>
<div class="t" dir="rtl" style="top:271.40px;font-size:12.79px;line-height:15.99px;color:#dfe5eb;font-family:'Liberation Sans',sans-serif;font-weight:bold;left:602.85px;transform-origin:50% 50%;transform:translateX(-50%) scale(0.2500,0.2500);">حقوقی</div>
<div class="t" style="top:269.87px;font-size:15.24px;line-height:19.05px;color:#b7c1cc;font-family:'Liberation Sans',sans-serif;left:638.1px;transform-origin:50% 50%;transform:translateX(-50%) scale(0.2500,0.2500);">0 X 0 (0%)</div>
<div class="t" style="top:277.16px;font-size:17.98px;line-height:22.48px;color:#dfe5eb;font-family:'Liberation Serif','DejaVu Serif',serif;left:546.35px;transform-origin:50% 50%;transform:translateX(-50%) scale(0.2500,0.2500);">1,182</div>
<div class="t" style="top:279.39px;font-size:14.42px;line-height:18.02px;color:#25c29c;font-family:'Liberation Serif','DejaVu Serif',serif;left:560.6px;transform-origin:50% 50%;transform:translateX(-50%) scale(0.2500,0.2500);">37 (3.22%)</div>
<div class="t" dir="rtl" style="top:277.89px;font-size:16.82px;line-height:21.02px;color:#56657a;font-family:'Liberation Sans',sans-serif;left:597.0px;transform-origin:50% 50%;transform:translateX(-50%) scale(0.2500,0.2500);">پایانی</div>
<div class="t" style="top:276.81px;font-size:18.55px;line-height:23.18px;color:#dfe5eb;font-family:'Liberation Serif','DejaVu Serif',serif;left:610.4px;transform-origin:50% 50%;transform:translateX(-50%) scale(0.2500,0.2500);">2.73B</div>
<div class="t" dir="rtl" style="top:279.47px;font-size:14.28px;line-height:17.85px;color:#56657a;font-family:'Liberation Sans',sans-serif;left:653.65px;transform-origin:50% 50%;transform:translateX(-50%) scale(0.2500,0.2500);">ارزش معاملات</div>
<div class="t" style="top:284.67px;font-size:18.29px;line-height:22.86px;color:#dfe5eb;font-family:'Liberation Serif','DejaVu Serif',serif;left:550.5px;transform-origin:50% 50%;transform:translateX(-50%) scale(0.2500,0.2500);">1 / 50,000</div>
<div class="t" dir="rtl" style="top:286.22px;font-size:15.81px;line-height:19.76px;color:#56657a;font-family:'Liberation Sans',sans-serif;left:593.25px;transform-origin:50% 50%;transform:translateX(-50%) scale(0.2500,0.2500);">آستانه حجم</div>
<div class="t" style="top:284.82px;font-size:18.05px;line-height:22.56px;color:#dfe5eb;font-family:'Liberation Serif','DejaVu Serif',serif;left:610.75px;transform-origin:50% 50%;transform:translateX(-50%) scale(0.2500,0.2500);">3.31M</div>
<div class="t" dir="rtl" style="top:286.10px;font-size:15.99px;line-height:19.99px;color:#56657a;font-family:'Liberation Sans',sans-serif;left:653.65px;transform-origin:50% 50%;transform:translateX(-50%) scale(0.2500,0.2500);">حجم معاملات</div>
<div class="t" style="top:292.72px;font-size:18.69px;line-height:23.36px;color:#dfe5eb;font-family:'Liberation Serif','DejaVu Serif',serif;left:549.4px;transform-origin:50% 50%;transform:translateX(-50%) scale(0.2500,0.2500);">09:22:27</div>
<div class="t" dir="rtl" style="top:295.40px;font-size:14.40px;line-height:18.00px;color:#56657a;font-family:'Liberation Sans',sans-serif;left:591.4px;transform-origin:50% 50%;transform:translateX(-50%) scale(0.2500,0.2500);">آخرین معامله</div>
<div class="t" style="top:295.40px;font-size:14.40px;line-height:18.00px;color:#dfe5eb;font-family:'Liberation Serif','DejaVu Serif',serif;left:606.5px;transform-origin:0 50%;transform:scale(0.2500,0.2500);">1</div>
<div class="t" dir="rtl" style="top:295.28px;font-size:14.59px;line-height:18.24px;color:#56657a;font-family:'Liberation Sans',sans-serif;left:657.45px;transform-origin:50% 50%;transform:translateX(-50%) scale(0.2500,0.2500);">حجم مبنا</div>
<div style="left:539px;top:340.2px;width:130px;height:10.3px;background:#152536;"></div>
<svg style="left:543.4px;top:343.3px" width="4.4" height="4.6" viewBox="0 0 4.4 4.6"><path d="M0.3 0.4 H4.1 L2.6 2.2 V4.2 L1.8 3.7 V2.2 Z" fill="none" stroke="#6e7c8d" stroke-width="0.45"/></svg>
<svg style="left:551.3px;top:345.2px" width="3.4" height="2.4" viewBox="0 0 3.4 2.4"><path d="M0.4 0.4 L1.7 1.8 L3 0.4" fill="none" stroke="#6e7c8d" stroke-width="0.5"/></svg>
<div class="t" dir="rtl" style="top:334.00px;font-size:18.56px;line-height:23.20px;color:#56657a;font-family:'Liberation Sans',sans-serif;left:654.5px;transform-origin:50% 50%;transform:translateX(-50%) scale(0.2500,0.2500);">خبر</div>
<svg style="left:659.4px;top:342.9px" width="4.4" height="5.4" viewBox="0 0 4.4 5.4"><path d="M0.4 0.4 H2.8 L4 1.6 V5 H0.4 Z" fill="none" stroke="#56657a" stroke-width="0.45"/></svg>
<div style="left:669px;top:53.5px;width:15px;height:309px;background:#1a2c3f;"></div>
<div style="left:669px;top:53.5px;width:0.8px;height:309.0px;background:#111b26;"></div>
<div style="left:669.8px;top:54.5px;width:14.2px;height:17px;background:#2a3b50;"></div>
<svg style="left:672.2px;top:59.6px" width="9" height="8" viewBox="0 0 9 8"><rect x="0.6" y="0.6" width="7.8" height="5.2" fill="none" stroke="#eef2f6" stroke-width="0.7"/><path d="M2 2.2 H5.5 M2 3.8 H6.8" stroke="#eef2f6" stroke-width="0.6"/><path d="M2.5 7.3 H6.5" stroke="#eef2f6" stroke-width="0.7"/></svg>
<svg style="left:673.2px;top:79px" width="7" height="7" viewBox="0 0 7 7"><circle cx="3.5" cy="4" r="2.6" fill="none" stroke="#8e9aa8" stroke-width="0.6"/><path d="M2.4 5.2 L3.6 3 L4.6 3.8" fill="none" stroke="#8e9aa8" stroke-width="0.6"/><path d="M4.8 0.8 L6.2 0.4" stroke="#8e9aa8" stroke-width="0.5"/></svg>
<svg style="left:671.6px;top:97.8px" width="10" height="7" viewBox="0 0 10 7"><circle cx="3" cy="1.5" r="1.1" fill="none" stroke="#8e9aa8" stroke-width="0.5"/><path d="M1.2 6 V3.5 H4.8 V6" fill="none" stroke="#8e9aa8" stroke-width="0.5"/><path d="M5.6 5.6 H9.6" stroke="#8e9aa8" stroke-width="0.4" stroke-dasharray="0.6 0.5"/></svg>
<svg style="left:672.3px;top:116.6px" width="8" height="7" viewBox="0 0 8 7"><rect x="0.5" y="0.8" width="6.8" height="5.4" fill="none" stroke="#56667a" stroke-width="0.6"/><path d="M1.6 2.4 H6 M1.6 3.6 H6 M1.6 4.8 H4.6" stroke="#56667a" stroke-width="0.5"/></svg>
<svg style="left:673.5px;top:134.2px" width="6" height="8" viewBox="0 0 6 8"><rect x="0.5" y="0.5" width="5" height="7" fill="none" stroke="#66768a" stroke-width="0.6"/><path d="M1.6 1.6 H4.4 V3.2 H1.6 Z" fill="#66768a"/></svg>
<svg style="left:672.5px;top:312px" width="8" height="7.5" viewBox="0 0 8 7.5"><rect x="0.6" y="0.6" width="4.8" height="3" rx="1" fill="none" stroke="#8e9aa8" stroke-width="0.55"/><rect x="2.6" y="4.2" width="4.8" height="2.8" rx="1" fill="none" stroke="#8e9aa8" stroke-width="0.55"/></svg>
<svg style="left:671.6px;top:330.4px" width="9.6" height="7.6" viewBox="0 0 9.6 7.6"><ellipse cx="4" cy="3" rx="3.6" ry="2.4" fill="#3d9fd9"/><ellipse cx="6" cy="4.6" rx="3.4" ry="2.3" fill="#5db4e6"/><path d="M2 5 L1.2 7 L3.6 5.3 Z" fill="#3d9fd9"/><path d="M2.4 3 H5.6 M4 4.6 H7.8" stroke="#1b2d40" stroke-width="0.45"/></svg>
<svg style="left:672.2px;top:350.4px" width="8.6" height="6.6" viewBox="0 0 8.6 6.6"><ellipse cx="4.3" cy="3.3" rx="3.3" ry="2.4" fill="#3a1420" stroke="#ec1c24" stroke-width="1.3"/><path d="M2.2 3.3 H6.4" stroke="#ff5a5f" stroke-width="0.5"/></svg>
<div style="left:177px;top:116.5px;width:230.5px;height:118.5px;background:#18283a;box-shadow:0 0 3px rgba(0,0,0,0.45)"></div>
<div style="left:177px;top:116.5px;width:230.5px;height:16.3px;background:#132233;"></div>
<div class="t" style="top:117.47px;font-size:11.56px;line-height:14.46px;color:#b7c1cc;font-family:'Liberation Sans',sans-serif;font-weight:bold;left:183.95px;transform-origin:50% 50%;transform:translateX(-50%) scale(0.2500,0.2500);">✕</div>
<svg style="left:190.8px;top:123.2px" width="2" height="3" viewBox="0 0 2 3"><path d="M0.3 0.3 L1.5 1.5 L0.3 2.7" fill="none" stroke="#6e7c8d" stroke-width="0.5"/></svg>
<div class="t" style="top:113.80px;font-size:17.43px;line-height:21.79px;color:#eef2f6;font-family:'Liberation Sans',sans-serif;font-weight:bold;left:205.85px;transform-origin:50% 50%;transform:translateX(-50%) scale(0.2500,0.2500);">1,151</div>
<div class="t" style="top:114.80px;font-size:16.16px;line-height:20.20px;color:#25c29c;font-family:'Liberation Sans',sans-serif;left:221.05px;transform-origin:50% 50%;transform:translateX(-50%) scale(0.2500,0.2500);">6 (0.52%)</div>
<div class="t" dir="rtl" style="top:111.91px;font-size:19.50px;line-height:24.37px;color:#eef2f6;font-family:'Liberation Sans',sans-serif;left:375.1px;transform-origin:50% 50%;transform:translateX(-50%) scale(0.2500,0.2500);">شرکت توسعه اقتصادی آرین</div>
<div class="t" dir="rtl" style="top:116.33px;font-size:13.55px;line-height:16.93px;color:#6e7c8d;font-family:'Liberation Sans',sans-serif;left:326.95px;transform-origin:50% 50%;transform:translateX(-50%) scale(0.2500,0.2500);">بازار سوم - پایه فرابورس</div>
<div style="left:180.1px;top:136px;width:87.5px;height:97.5px;background:#1e3860;box-shadow:inset 0 0 0 0.8px #3878b8"></div>
<div style="left:180.1px;top:136px;width:43.4px;height:10.1px;background:#71323d;box-shadow:inset 0 0 0 0.7px #9a4150"></div>
<div class="t" dir="rtl" style="top:130.15px;font-size:18.32px;line-height:22.90px;color:#f07a87;font-family:'Liberation Sans',sans-serif;left:202.0px;transform-origin:50% 50%;transform:translateX(-50%) scale(0.2500,0.2500);">فروش</div>
<div class="t" dir="rtl" style="top:131.35px;font-size:16.40px;line-height:20.50px;color:#3a9fe0;font-family:'Liberation Sans',sans-serif;left:245.9px;transform-origin:50% 50%;transform:translateX(-50%) scale(0.2500,0.2500);">خرید</div>
<div style="left:185.7px;top:149.6px;width:63px;height:10.099999999999994px;background:#ffffff;box-shadow:inset 0 0 0 0.4px #c9d3de"></div>
<div class="t" style="top:142.64px;font-size:19.22px;line-height:24.02px;color:#3a4350;font-family:'Liberation Serif','DejaVu Serif',serif;left:240.3px;transform-origin:50% 50%;transform:translateX(-50%) scale(0.2500,0.2500);">10,000</div>
<div class="t" dir="rtl" style="top:143.11px;font-size:18.46px;line-height:23.08px;color:#dfe5eb;font-family:'Liberation Sans',sans-serif;left:255.35px;transform-origin:50% 50%;transform:translateX(-50%) scale(0.2500,0.2500);">تعداد</div>
<div style="left:185.7px;top:161.5px;width:63px;height:9.400000000000006px;background:#ffffff;box-shadow:inset 0 0 0 0.4px #c9d3de"></div>
<div class="t" style="top:154.64px;font-size:18.49px;line-height:23.11px;color:#3a4350;font-family:'Liberation Serif','DejaVu Serif',serif;left:241.7px;transform-origin:50% 50%;transform:translateX(-50%) scale(0.2500,0.2500);">1,170</div>
<div class="t" dir="rtl" style="top:155.63px;font-size:16.91px;line-height:21.14px;color:#dfe5eb;font-family:'Liberation Sans',sans-serif;left:255.55px;transform-origin:50% 50%;transform:translateX(-50%) scale(0.2500,0.2500);">قیمت</div>
<div style="left:185.7px;top:173.0px;width:63px;height:9.900000000000006px;background:#ffffff;box-shadow:inset 0 0 0 0.4px #c9d3de"></div>
<div class="t" dir="rtl" style="top:169.18px;font-size:10.19px;line-height:12.74px;color:#dfe5eb;font-family:'Liberation Sans',sans-serif;left:253.1px;transform-origin:50% 50%;transform:translateX(-50%) scale(0.2500,0.2500);">حجم</div>
<div class="t" dir="rtl" style="top:171.67px;font-size:13.56px;line-height:16.95px;color:#dfe5eb;font-family:'Liberation Sans',sans-serif;left:256.55px;transform-origin:50% 50%;transform:translateX(-50%) scale(0.2500,0.2500);">نمایشی:</div>
<div style="left:185.7px;top:184.5px;width:63px;height:9.400000000000006px;background:#ffffff;box-shadow:inset 0 0 0 0.4px #c9d3de"></div>
<div class="t" dir="rtl" style="top:181.03px;font-size:13.06px;line-height:16.33px;color:#3a4350;font-family:'Liberation Sans',sans-serif;left:239.5px;transform-origin:50% 50%;transform:translateX(-50%) scale(0.2500,0.2500);">کارگزاری</div>
<div class="t" dir="rtl" style="top:177.50px;font-size:14.88px;line-height:18.61px;color:#dfe5eb;font-family:'Liberation Sans',sans-serif;left:254.3px;transform-origin:50% 50%;transform:translateX(-50%) scale(0.2500,0.2500);">محل</div>
<div class="t" dir="rtl" style="top:180.52px;font-size:17.40px;line-height:21.75px;color:#dfe5eb;font-family:'Liberation Sans',sans-serif;left:256.3px;transform-origin:50% 50%;transform:translateX(-50%) scale(0.2500,0.2500);">اعتبار</div>
<div style="left:185.7px;top:196.1px;width:63px;height:9.400000000000006px;background:#ffffff;box-shadow:inset 0 0 0 0.4px #c9d3de"></div>
<div class="t" dir="rtl" style="top:193.73px;font-size:11.31px;line-height:14.14px;color:#3a4350;font-family:'Liberation Sans',sans-serif;left:243.6px;transform-origin:50% 50%;transform:translateX(-50%) scale(0.2500,0.2500);">روز</div>
<div class="t" dir="rtl" style="top:189.75px;font-size:17.68px;line-height:22.10px;color:#dfe5eb;font-family:'Liberation Sans',sans-serif;left:255.55px;transform-origin:50% 50%;transform:translateX(-50%) scale(0.2500,0.2500);">اعتبار</div>
<div style="left:185.7px;top:207.6px;width:63px;height:9.400000000000006px;background:#ffffff;box-shadow:inset 0 0 0 0.4px #c9d3de"></div>
<div class="t" style="top:201.77px;font-size:16.85px;line-height:21.07px;color:#3a4350;font-family:'Liberation Serif','DejaVu Serif',serif;left:236.6px;transform-origin:50% 50%;transform:translateX(-50%) scale(0.2500,0.2500);">11,765,400</div>
<div class="t" dir="rtl" style="top:202.22px;font-size:16.12px;line-height:20.15px;color:#dfe5eb;font-family:'Liberation Sans',sans-serif;left:256.8px;transform-origin:50% 50%;transform:translateX(-50%) scale(0.2500,0.2500);">سرمایه</div>
<svg style="left:187.8px;top:151.6px" width="3.6" height="6" viewBox="0 0 3.6 6"><path d="M2.6 0.2 L0.6 3.2 H2 L1.2 5.8 L3.2 2.6 H1.8 Z" fill="#2a3340"/></svg>
<svg style="left:195.2px;top:154px" width="3.4" height="2.4" viewBox="0 0 3.4 2.4"><path d="M0.4 0.4 L1.7 1.8 L3 0.4" fill="none" stroke="#9aa5b2" stroke-width="0.5"/></svg>
<svg style="left:187.3px;top:163.7px" width="5" height="5" viewBox="0 0 5 5"><path d="M1 3.2 L3.2 1 A0.9 0.9 0 0 1 4.2 2 L2 4.2 A0.9 0.9 0 0 1 1 3.2 Z" fill="none" stroke="#ea5d69" stroke-width="0.6"/><path d="M1.9 2.9 L3.2 1.6" stroke="#ea5d69" stroke-width="0.5"/></svg>
<svg style="left:187.4px;top:175.1px" width="4" height="5.6" viewBox="0 0 4 5.6"><rect x="0.4" y="2.4" width="3.2" height="2.9" fill="none" stroke="#5d6877" stroke-width="0.45"/><path d="M1 2.4 V1.4 A1 1 0 0 1 3 1.4 V2.4" fill="none" stroke="#5d6877" stroke-width="0.45"/></svg>
<svg style="left:195.8px;top:174.8px" width="2.4" height="6.4" viewBox="0 0 2.4 6.4"><path d="M0.3 2 L1.2 0.8 L2.1 2 M0.3 4.4 L1.2 5.6 L2.1 4.4" fill="none" stroke="#b8c1cc" stroke-width="0.35"/></svg>
<svg style="left:188.4px;top:209.1px" width="2.4" height="6.4" viewBox="0 0 2.4 6.4"><path d="M0.3 2 L1.2 0.8 L2.1 2 M0.3 4.4 L1.2 5.6 L2.1 4.4" fill="none" stroke="#b8c1cc" stroke-width="0.35"/></svg>
<svg style="left:187.6px;top:188.3px" width="3.4" height="2.4" viewBox="0 0 3.4 2.4"><path d="M0.4 0.4 L1.7 1.8 L3 0.4" fill="none" stroke="#a8b2be" stroke-width="0.5"/></svg>
<svg style="left:187.6px;top:199.8px" width="3.4" height="2.4" viewBox="0 0 3.4 2.4"><path d="M0.4 0.4 L1.7 1.8 L3 0.4" fill="none" stroke="#a8b2be" stroke-width="0.5"/></svg>
<div style="left:185.4px;top:220.8px;width:36.8px;height:9.9px;background:#28a3d8;"></div>
<div style="left:225.9px;top:220.8px;width:36.6px;height:9.9px;background:#2391c6;"></div>
<div class="t" dir="rtl" style="top:214.43px;font-size:18.03px;line-height:22.53px;color:#ffffff;font-family:'Liberation Sans',sans-serif;left:203.85px;transform-origin:50% 50%;transform:translateX(-50%) scale(0.2500,0.2500);">ارسال و بستن</div>
<div class="t" dir="rtl" style="top:213.90px;font-size:18.88px;line-height:23.60px;color:#ffffff;font-family:'Liberation Sans',sans-serif;left:244.0px;transform-origin:50% 50%;transform:translateX(-50%) scale(0.2500,0.2500);">ثبت سفارش</div>
<div style="left:270.9px;top:135.4px;width:134.8px;height:52px;background:#1a2b3d;box-shadow:inset 0 0 0 0.5px #223246"></div>
<div class="t" dir="rtl" style="top:130.85px;font-size:15.61px;line-height:19.51px;color:#56657a;font-family:'Liberation Sans',sans-serif;left:278.6px;transform-origin:50% 50%;transform:translateX(-50%) scale(0.2500,0.2500);">تعداد</div>
<div class="t" dir="rtl" style="top:131.02px;font-size:15.33px;line-height:19.16px;color:#56657a;font-family:'Liberation Sans',sans-serif;left:299.7px;transform-origin:50% 50%;transform:translateX(-50%) scale(0.2500,0.2500);">حجم</div>
<div class="t" dir="rtl" style="top:131.84px;font-size:14.02px;line-height:17.52px;color:#56657a;font-family:'Liberation Sans',sans-serif;left:326.4px;transform-origin:50% 50%;transform:translateX(-50%) scale(0.2500,0.2500);">قیمت</div>
<div class="t" dir="rtl" style="top:131.50px;font-size:14.56px;line-height:18.20px;color:#56657a;font-family:'Liberation Sans',sans-serif;left:350.4px;transform-origin:50% 50%;transform:translateX(-50%) scale(0.2500,0.2500);">قیمت</div>
<div class="t" dir="rtl" style="top:131.23px;font-size:14.99px;line-height:18.74px;color:#56657a;font-family:'Liberation Sans',sans-serif;left:377.9px;transform-origin:50% 50%;transform:translateX(-50%) scale(0.2500,0.2500);">حجم</div>
<div class="t" dir="rtl" style="top:130.45px;font-size:16.24px;line-height:20.30px;color:#56657a;font-family:'Liberation Sans',sans-serif;left:398.9px;transform-origin:50% 50%;transform:translateX(-50%) scale(0.2500,0.2500);">تعداد</div>
<div style="left:271.5px;top:145.70000000000002px;width:133.6px;height:8.4px;background:#1c2d40;"></div>
<div class="t" style="top:138.44px;font-size:18.34px;line-height:22.93px;color:#e3e8ee;font-family:'Liberation Serif','DejaVu Serif',serif;left:278.1px;transform-origin:50% 50%;transform:translateX(-50%) scale(0.2500,0.2500);">2</div>
<div class="t" style="top:138.45px;font-size:18.33px;line-height:22.91px;color:#e3e8ee;font-family:'Liberation Serif','DejaVu Serif',serif;left:299.3px;transform-origin:50% 50%;transform:translateX(-50%) scale(0.2500,0.2500);">6,147</div>
<div class="t" style="top:138.45px;font-size:18.33px;line-height:22.91px;color:#ea5d69;font-family:'Liberation Serif','DejaVu Serif',serif;left:326.2px;transform-origin:50% 50%;transform:translateX(-50%) scale(0.2500,0.2500);">1,170</div>
<div class="t" style="top:138.45px;font-size:18.33px;line-height:22.91px;color:#3d9fd9;font-family:'Liberation Serif','DejaVu Serif',serif;left:350.6px;transform-origin:50% 50%;transform:translateX(-50%) scale(0.2500,0.2500);">1,150</div>
<div class="t" style="top:138.45px;font-size:18.31px;line-height:22.89px;color:#e3e8ee;font-family:'Liberation Serif','DejaVu Serif',serif;left:377.2px;transform-origin:50% 50%;transform:translateX(-50%) scale(0.2500,0.2500);">65,500</div>
<div class="t" style="top:138.44px;font-size:18.34px;line-height:22.93px;color:#e3e8ee;font-family:'Liberation Serif','DejaVu Serif',serif;left:398.3px;transform-origin:50% 50%;transform:translateX(-50%) scale(0.2500,0.2500);">3</div>
<div style="left:271.5px;top:154.10000000000002px;width:133.6px;height:8.4px;background:#132132;"></div>
<div class="t" style="top:146.84px;font-size:18.34px;line-height:22.93px;color:#e3e8ee;font-family:'Liberation Serif','DejaVu Serif',serif;left:278.1px;transform-origin:50% 50%;transform:translateX(-50%) scale(0.2500,0.2500);">1</div>
<div class="t" style="top:146.85px;font-size:18.33px;line-height:22.91px;color:#e3e8ee;font-family:'Liberation Serif','DejaVu Serif',serif;left:299.3px;transform-origin:50% 50%;transform:translateX(-50%) scale(0.2500,0.2500);">1,000</div>
<div class="t" style="top:146.85px;font-size:18.33px;line-height:22.91px;color:#ea5d69;font-family:'Liberation Serif','DejaVu Serif',serif;left:326.2px;transform-origin:50% 50%;transform:translateX(-50%) scale(0.2500,0.2500);">1,176</div>
<div class="t" style="top:146.85px;font-size:18.33px;line-height:22.91px;color:#3d9fd9;font-family:'Liberation Serif','DejaVu Serif',serif;left:350.6px;transform-origin:50% 50%;transform:translateX(-50%) scale(0.2500,0.2500);">1,145</div>
<div class="t" style="top:146.72px;font-size:18.52px;line-height:23.15px;color:#e3e8ee;font-family:'Liberation Serif','DejaVu Serif',serif;left:377.2px;transform-origin:50% 50%;transform:translateX(-50%) scale(0.2500,0.2500);">110,000</div>
<div class="t" style="top:146.84px;font-size:18.34px;line-height:22.93px;color:#e3e8ee;font-family:'Liberation Serif','DejaVu Serif',serif;left:398.3px;transform-origin:50% 50%;transform:translateX(-50%) scale(0.2500,0.2500);">2</div>
<div style="left:271.5px;top:162.60000000000002px;width:133.6px;height:8.4px;background:#1c2d40;"></div>
<div class="t" style="top:155.34px;font-size:18.34px;line-height:22.93px;color:#e3e8ee;font-family:'Liberation Serif','DejaVu Serif',serif;left:278.1px;transform-origin:50% 50%;transform:translateX(-50%) scale(0.2500,0.2500);">1</div>
<div class="t" style="top:155.35px;font-size:18.31px;line-height:22.89px;color:#e3e8ee;font-family:'Liberation Serif','DejaVu Serif',serif;left:299.3px;transform-origin:50% 50%;transform:translateX(-50%) scale(0.2500,0.2500);">10,000</div>
<div class="t" style="top:155.35px;font-size:18.33px;line-height:22.91px;color:#ea5d69;font-family:'Liberation Serif','DejaVu Serif',serif;left:326.2px;transform-origin:50% 50%;transform:translateX(-50%) scale(0.2500,0.2500);">1,180</div>
<div class="t" style="top:155.35px;font-size:18.33px;line-height:22.91px;color:#3d9fd9;font-family:'Liberation Serif','DejaVu Serif',serif;left:350.6px;transform-origin:50% 50%;transform:translateX(-50%) scale(0.2500,0.2500);">1,140</div>
<div class="t" style="top:155.35px;font-size:18.31px;line-height:22.89px;color:#e3e8ee;font-family:'Liberation Serif','DejaVu Serif',serif;left:377.2px;transform-origin:50% 50%;transform:translateX(-50%) scale(0.2500,0.2500);">30,000</div>
<div class="t" style="top:155.34px;font-size:18.34px;line-height:22.93px;color:#e3e8ee;font-family:'Liberation Serif','DejaVu Serif',serif;left:398.3px;transform-origin:50% 50%;transform:translateX(-50%) scale(0.2500,0.2500);">1</div>
<div style="left:271.5px;top:170.9px;width:133.6px;height:8.4px;background:#132132;"></div>
<div class="t" style="top:163.64px;font-size:18.34px;line-height:22.93px;color:#e3e8ee;font-family:'Liberation Serif','DejaVu Serif',serif;left:278.1px;transform-origin:50% 50%;transform:translateX(-50%) scale(0.2500,0.2500);">1</div>
<div class="t" style="top:163.65px;font-size:18.31px;line-height:22.89px;color:#e3e8ee;font-family:'Liberation Serif','DejaVu Serif',serif;left:299.3px;transform-origin:50% 50%;transform:translateX(-50%) scale(0.2500,0.2500);">19,000</div>
<div class="t" style="top:163.65px;font-size:18.33px;line-height:22.91px;color:#ea5d69;font-family:'Liberation Serif','DejaVu Serif',serif;left:326.2px;transform-origin:50% 50%;transform:translateX(-50%) scale(0.2500,0.2500);">1,181</div>
<div class="t" style="top:163.65px;font-size:18.33px;line-height:22.91px;color:#3d9fd9;font-family:'Liberation Serif','DejaVu Serif',serif;left:350.6px;transform-origin:50% 50%;transform:translateX(-50%) scale(0.2500,0.2500);">1,129</div>
<div class="t" style="top:163.65px;font-size:18.33px;line-height:22.91px;color:#e3e8ee;font-family:'Liberation Serif','DejaVu Serif',serif;left:377.2px;transform-origin:50% 50%;transform:translateX(-50%) scale(0.2500,0.2500);">5,000</div>
<div class="t" style="top:163.64px;font-size:18.34px;line-height:22.93px;color:#e3e8ee;font-family:'Liberation Serif','DejaVu Serif',serif;left:398.3px;transform-origin:50% 50%;transform:translateX(-50%) scale(0.2500,0.2500);">2</div>
<div style="left:271.5px;top:179.3px;width:133.6px;height:8.4px;background:#1c2d40;"></div>
<div class="t" style="top:172.04px;font-size:18.34px;line-height:22.93px;color:#e3e8ee;font-family:'Liberation Serif','DejaVu Serif',serif;left:278.1px;transform-origin:50% 50%;transform:translateX(-50%) scale(0.2500,0.2500);">1</div>
<div class="t" style="top:172.05px;font-size:18.31px;line-height:22.89px;color:#e3e8ee;font-family:'Liberation Serif','DejaVu Serif',serif;left:299.3px;transform-origin:50% 50%;transform:translateX(-50%) scale(0.2500,0.2500);">40,000</div>
<div class="t" style="top:172.05px;font-size:18.33px;line-height:22.91px;color:#ea5d69;font-family:'Liberation Serif','DejaVu Serif',serif;left:326.2px;transform-origin:50% 50%;transform:translateX(-50%) scale(0.2500,0.2500);">1,183</div>
<div class="t" style="top:171.85px;font-size:18.63px;line-height:23.29px;color:#3d9fd9;font-family:'Liberation Serif','DejaVu Serif',serif;left:350.6px;transform-origin:50% 50%;transform:translateX(-50%) scale(0.2500,0.2500);">1,118</div>
<div class="t" style="top:172.05px;font-size:18.33px;line-height:22.91px;color:#e3e8ee;font-family:'Liberation Serif','DejaVu Serif',serif;left:377.2px;transform-origin:50% 50%;transform:translateX(-50%) scale(0.2500,0.2500);">8,000</div>
<div class="t" style="top:172.04px;font-size:18.34px;line-height:22.93px;color:#e3e8ee;font-family:'Liberation Serif','DejaVu Serif',serif;left:398.3px;transform-origin:50% 50%;transform:translateX(-50%) scale(0.2500,0.2500);">2</div>
<div style="left:270.7px;top:188.3px;width:134.7px;height:44.5px;background:#1a2b3d;box-shadow:inset 0 0 0 0.5px #223246"></div>
<svg style="left:270.7px;top:188.3px" width="135" height="45" viewBox="0 0 135 45">
<defs><linearGradient id="gr" x1="0" y1="0" x2="0" y2="1"><stop offset="0" stop-color="#3c9a52" stop-opacity="0.95"/><stop offset="1" stop-color="#24553a" stop-opacity="0.7"/></linearGradient>
<linearGradient id="rd" x1="0" y1="0" x2="0" y2="1"><stop offset="0" stop-color="#6a2a34" stop-opacity="0.2"/><stop offset="1" stop-color="#7a2f3a" stop-opacity="0.75"/></linearGradient></defs>
<path d="M2 18.5 L6 19.5 L12 18.5 L16 20 L20 24 L23 27.5 L27 24 L31 22 L35 23.5 L39 21.8 L43 25.5 L47 22 L48 19 L48 15.5 Z" fill="url(#rd)"/>
<path d="M2 18.5 L6 19.5 L12 18.5 L16 20 L20 24 L23 27.5 L27 24 L31 22 L35 23.5 L39 21.8 L43 25.5 L47 22 L48 19" fill="none" stroke="#e0343e" stroke-width="0.8"/>
<path d="M48 19 L50 11.5 L60 9 L72 6 L80 5.5 L92 7 L102 9 L108 11 L112 15.5 L118 15.5 V19 H48 Z" fill="url(#gr)"/>
<path d="M48 19 L50 11.5 L60 9 L72 6 L80 5.5 L92 7 L102 9 L108 11 L112 15.5 L118 15.5" fill="none" stroke="#41c159" stroke-width="0.8"/>
<path d="M47.6 2 V38" stroke="#3b4a5d" stroke-width="0.4"/>
<path d="M118 2 V35" stroke="#4b5a6d" stroke-width="0.5"/>
<path d="M2 35 H118" stroke="#4b5a6d" stroke-width="0.5"/>
<path d="M2 15.3 H116" stroke="#2fb399" stroke-width="0.5" stroke-dasharray="1.2 1"/>
<circle cx="118" cy="15.3" r="0.9" fill="#2bbd97"/>
<path d="M118.3 18 V21" stroke="#3d9fd9" stroke-width="0.6"/>
</svg>
<svg style="left:385.5px;top:201.3px" width="20" height="4.8" viewBox="0 0 20 4.8"><path d="M0 2.4 L2 0 H20 V4.8 H2 Z" fill="#2bbd97"/></svg>
<div class="t" style="top:196.30px;font-size:12.00px;line-height:15.00px;color:#fff;font-family:'Liberation Sans',sans-serif;font-weight:bold;left:395.3px;transform-origin:50% 50%;transform:translateX(-50%) scale(0.2500,0.2500);">1,151.00</div>
<div class="t" style="top:188.10px;font-size:10.40px;line-height:13.00px;color:#6e7c8d;font-family:'Liberation Sans',sans-serif;left:391px;transform-origin:0 50%;transform:scale(0.2500,0.2500);">1,200</div>
<div class="t" style="top:204.80px;font-size:10.40px;line-height:13.00px;color:#6e7c8d;font-family:'Liberation Sans',sans-serif;left:391px;transform-origin:0 50%;transform:scale(0.2500,0.2500);">1,100</div>
<div class="t" style="top:213.90px;font-size:10.40px;line-height:13.00px;color:#6e7c8d;font-family:'Liberation Sans',sans-serif;left:391px;transform-origin:0 50%;transform:scale(0.2500,0.2500);">1,050</div>
<div class="t" style="top:222.20px;font-size:12.00px;line-height:15.00px;color:#c5ccd4;font-family:'Liberation Sans',sans-serif;font-weight:bold;left:318.3px;transform-origin:50% 50%;transform:translateX(-50%) scale(0.2500,0.2500);">-0-0</div>
<svg style="left:0;top:0" width="722" height="400" viewBox="0 0 722 400"><defs>
<radialGradient id="inner" cx="0.5" cy="0.55" r="0.6"><stop offset="0" stop-color="#f1f1f2"/><stop offset="0.7" stop-color="#e7e7e9"/><stop offset="1" stop-color="#dcdcdf"/></radialGradient>
</defs></svg>
<svg style="left:42.40px;top:-1.70px" width="38.60" height="42.30" viewBox="0 0 38.60 42.30"><defs>
<linearGradient id="g0" x1="0.826" y1="0.121" x2="0.174" y2="0.879"><stop offset="0" stop-color="#8ac53b"/><stop offset="0.34" stop-color="#92c84a"/><stop offset="0.68" stop-color="#c9d898"/><stop offset="1" stop-color="#e4e8c9"/></linearGradient>
<linearGradient id="t0" gradientUnits="userSpaceOnUse" x1="19.30" y1="19.30" x2="20.80" y2="39.30"><stop offset="0.6" stop-color="#d9dfb3"/><stop offset="1" stop-color="#b9cf78"/></linearGradient></defs>
<path d="M14.12 33.70 L20.80 39.30 L26.57 32.76 Z" fill="url(#t0)"/>
<circle cx="19.30" cy="19.30" r="16.3" fill="url(#g0)"/>
<circle cx="19.30" cy="19.30" r="13.40" fill="url(#inner)"/>
</svg>
<div class="t" style="top:-10.80px;font-size:35.20px;line-height:44.00px;color:#8fc744;font-family:'Liberation Serif','DejaVu Serif',serif;font-weight:bold;left:61.7px;transform-origin:50% 50%;transform:translateX(-50%) scale(0.2500,0.2500);">23</div>
<div class="t" dir="rtl" style="top:1.20px;font-size:32.00px;line-height:40.00px;color:#111111;font-family:'Liberation Sans',sans-serif;font-weight:bold;left:61.7px;transform-origin:50% 50%;transform:translateX(-50%) scale(0.1772,0.2500);">تنظیمات</div>
<svg style="left:230.30px;top:-0.80px" width="38.60" height="41.80" viewBox="0 0 38.60 41.80"><defs>
<linearGradient id="g1" x1="0.827" y1="0.122" x2="0.173" y2="0.878"><stop offset="0" stop-color="#8ac53b"/><stop offset="0.34" stop-color="#92c84a"/><stop offset="0.68" stop-color="#c9d898"/><stop offset="1" stop-color="#e4e8c9"/></linearGradient>
<linearGradient id="t1" gradientUnits="userSpaceOnUse" x1="19.30" y1="19.30" x2="20.70" y2="38.80"><stop offset="0.6" stop-color="#d9dfb3"/><stop offset="1" stop-color="#b9cf78"/></linearGradient></defs>
<path d="M14.08 33.68 L20.70 38.80 L26.52 32.79 Z" fill="url(#t1)"/>
<circle cx="19.30" cy="19.30" r="16.3" fill="url(#g1)"/>
<circle cx="19.30" cy="19.30" r="13.40" fill="url(#inner)"/>
</svg>
<div class="t" style="top:-10.90px;font-size:35.20px;line-height:44.00px;color:#8fc744;font-family:'Liberation Serif','DejaVu Serif',serif;font-weight:bold;left:249.6px;transform-origin:50% 50%;transform:translateX(-50%) scale(0.2500,0.2500);">19</div>
<div class="t" dir="rtl" style="top:2.10px;font-size:32.00px;line-height:40.00px;color:#111111;font-family:'Liberation Sans',sans-serif;font-weight:bold;left:249.6px;transform-origin:50% 50%;transform:translateX(-50%) scale(0.1718,0.2500);">شاخص</div>
<svg style="left:448.00px;top:-0.90px" width="38.60" height="41.40" viewBox="0 0 38.60 41.40"><defs>
<linearGradient id="g2" x1="0.840" y1="0.134" x2="0.160" y2="0.866"><stop offset="0" stop-color="#8ac53b"/><stop offset="0.34" stop-color="#92c84a"/><stop offset="0.68" stop-color="#c9d898"/><stop offset="1" stop-color="#e4e8c9"/></linearGradient>
<linearGradient id="t2" gradientUnits="userSpaceOnUse" x1="19.30" y1="19.30" x2="20.00" y2="38.40"><stop offset="0.6" stop-color="#d9dfb3"/><stop offset="1" stop-color="#b9cf78"/></linearGradient></defs>
<path d="M13.58 33.49 L20.00 38.40 L26.05 33.03 Z" fill="url(#t2)"/>
<circle cx="19.30" cy="19.30" r="16.3" fill="url(#g2)"/>
<circle cx="19.30" cy="19.30" r="13.40" fill="url(#inner)"/>
</svg>
<div class="t" style="top:-11.20px;font-size:35.20px;line-height:44.00px;color:#8fc744;font-family:'Liberation Serif','DejaVu Serif',serif;font-weight:bold;left:467.3px;transform-origin:50% 50%;transform:translateX(-50%) scale(0.2500,0.2500);">17</div>
<div class="t" dir="rtl" style="top:0.60px;font-size:32.00px;line-height:40.00px;color:#111111;font-family:'Liberation Sans',sans-serif;font-weight:bold;left:467.3px;transform-origin:50% 50%;transform:translateX(-50%) scale(0.1499,0.2500);">بیکسو تی وی</div>
<svg style="left:482.80px;top:-0.90px" width="38.60" height="41.40" viewBox="0 0 38.60 41.40"><defs>
<linearGradient id="g3" x1="0.825" y1="0.120" x2="0.175" y2="0.880"><stop offset="0" stop-color="#8ac53b"/><stop offset="0.34" stop-color="#92c84a"/><stop offset="0.68" stop-color="#c9d898"/><stop offset="1" stop-color="#e4e8c9"/></linearGradient>
<linearGradient id="t3" gradientUnits="userSpaceOnUse" x1="19.30" y1="19.30" x2="20.80" y2="38.40"><stop offset="0.6" stop-color="#d9dfb3"/><stop offset="1" stop-color="#b9cf78"/></linearGradient></defs>
<path d="M14.17 33.72 L20.80 38.40 L26.61 32.74 Z" fill="url(#t3)"/>
<circle cx="19.30" cy="19.30" r="16.3" fill="url(#g3)"/>
<circle cx="19.30" cy="19.30" r="13.40" fill="url(#inner)"/>
</svg>
<div class="t" style="top:-11.20px;font-size:35.20px;line-height:44.00px;color:#8fc744;font-family:'Liberation Serif','DejaVu Serif',serif;font-weight:bold;left:502.1px;transform-origin:50% 50%;transform:translateX(-50%) scale(0.2500,0.2500);">16</div>
<div class="t" dir="rtl" style="top:0.60px;font-size:32.00px;line-height:40.00px;color:#111111;font-family:'Liberation Sans',sans-serif;font-weight:bold;left:502.1px;transform-origin:50% 50%;transform:translateX(-50%) scale(0.1626,0.2500);">گزارش‌ها</div>
<svg style="left:517.80px;top:-0.90px" width="38.60" height="41.40" viewBox="0 0 38.60 41.40"><defs>
<linearGradient id="g4" x1="0.842" y1="0.136" x2="0.158" y2="0.864"><stop offset="0" stop-color="#8ac53b"/><stop offset="0.34" stop-color="#92c84a"/><stop offset="0.68" stop-color="#c9d898"/><stop offset="1" stop-color="#e4e8c9"/></linearGradient>
<linearGradient id="t4" gradientUnits="userSpaceOnUse" x1="19.30" y1="19.30" x2="19.90" y2="38.40"><stop offset="0.6" stop-color="#d9dfb3"/><stop offset="1" stop-color="#b9cf78"/></linearGradient></defs>
<path d="M13.50 33.46 L19.90 38.40 L25.97 33.07 Z" fill="url(#t4)"/>
<circle cx="19.30" cy="19.30" r="16.3" fill="url(#g4)"/>
<circle cx="19.30" cy="19.30" r="13.40" fill="url(#inner)"/>
</svg>
<div class="t" style="top:-11.20px;font-size:35.20px;line-height:44.00px;color:#8fc744;font-family:'Liberation Serif','DejaVu Serif',serif;font-weight:bold;left:537.1px;transform-origin:50% 50%;transform:translateX(-50%) scale(0.2500,0.2500);">15</div>
<div class="t" dir="rtl" style="top:0.60px;font-size:32.00px;line-height:40.00px;color:#111111;font-family:'Liberation Sans',sans-serif;font-weight:bold;left:537.1px;transform-origin:50% 50%;transform:translateX(-50%) scale(0.1725,0.2500);">بازار</div>
<svg style="left:550.90px;top:-0.90px" width="38.60" height="41.40" viewBox="0 0 38.60 41.40"><defs>
<linearGradient id="g5" x1="0.833" y1="0.127" x2="0.167" y2="0.873"><stop offset="0" stop-color="#8ac53b"/><stop offset="0.34" stop-color="#92c84a"/><stop offset="0.68" stop-color="#c9d898"/><stop offset="1" stop-color="#e4e8c9"/></linearGradient>
<linearGradient id="t5" gradientUnits="userSpaceOnUse" x1="19.30" y1="19.30" x2="20.40" y2="38.40"><stop offset="0.6" stop-color="#d9dfb3"/><stop offset="1" stop-color="#b9cf78"/></linearGradient></defs>
<path d="M13.87 33.61 L20.40 38.40 L26.33 32.89 Z" fill="url(#t5)"/>
<circle cx="19.30" cy="19.30" r="16.3" fill="url(#g5)"/>
<circle cx="19.30" cy="19.30" r="13.40" fill="url(#inner)"/>
</svg>
<div class="t" style="top:-11.20px;font-size:35.20px;line-height:44.00px;color:#8fc744;font-family:'Liberation Serif','DejaVu Serif',serif;font-weight:bold;left:570.2px;transform-origin:50% 50%;transform:translateX(-50%) scale(0.2500,0.2500);">14</div>
<div class="t" dir="rtl" style="top:0.60px;font-size:32.00px;line-height:40.00px;color:#111111;font-family:'Liberation Sans',sans-serif;font-weight:bold;left:570.2px;transform-origin:50% 50%;transform:translateX(-50%) scale(0.1795,0.2500);">درخواستها</div>
<svg style="left:585.50px;top:-0.90px" width="38.60" height="41.40" viewBox="0 0 38.60 41.40"><defs>
<linearGradient id="g6" x1="0.838" y1="0.132" x2="0.162" y2="0.868"><stop offset="0" stop-color="#8ac53b"/><stop offset="0.34" stop-color="#92c84a"/><stop offset="0.68" stop-color="#c9d898"/><stop offset="1" stop-color="#e4e8c9"/></linearGradient>
<linearGradient id="t6" gradientUnits="userSpaceOnUse" x1="19.30" y1="19.30" x2="20.10" y2="38.40"><stop offset="0.6" stop-color="#d9dfb3"/><stop offset="1" stop-color="#b9cf78"/></linearGradient></defs>
<path d="M13.65 33.52 L20.10 38.40 L26.12 33.00 Z" fill="url(#t6)"/>
<circle cx="19.30" cy="19.30" r="16.3" fill="url(#g6)"/>
<circle cx="19.30" cy="19.30" r="13.40" fill="url(#inner)"/>
</svg>
<div class="t" style="top:-11.20px;font-size:35.20px;line-height:44.00px;color:#8fc744;font-family:'Liberation Serif','DejaVu Serif',serif;font-weight:bold;left:604.8px;transform-origin:50% 50%;transform:translateX(-50%) scale(0.2500,0.2500);">13</div>
<div class="t" dir="rtl" style="top:0.60px;font-size:32.00px;line-height:40.00px;color:#111111;font-family:'Liberation Sans',sans-serif;left:604.8px;transform-origin:50% 50%;transform:translateX(-50%) scale(0.1837,0.2500);">آتی کالا</div>
<svg style="left:624.80px;top:-0.90px" width="38.60" height="41.40" viewBox="0 0 38.60 41.40"><defs>
<linearGradient id="g7" x1="0.837" y1="0.130" x2="0.163" y2="0.870"><stop offset="0" stop-color="#8ac53b"/><stop offset="0.34" stop-color="#92c84a"/><stop offset="0.68" stop-color="#c9d898"/><stop offset="1" stop-color="#e4e8c9"/></linearGradient>
<linearGradient id="t7" gradientUnits="userSpaceOnUse" x1="19.30" y1="19.30" x2="20.20" y2="38.40"><stop offset="0.6" stop-color="#d9dfb3"/><stop offset="1" stop-color="#b9cf78"/></linearGradient></defs>
<path d="M13.73 33.55 L20.20 38.40 L26.19 32.96 Z" fill="url(#t7)"/>
<circle cx="19.30" cy="19.30" r="16.3" fill="url(#g7)"/>
<circle cx="19.30" cy="19.30" r="13.40" fill="url(#inner)"/>
</svg>
<div class="t" style="top:-11.20px;font-size:35.20px;line-height:44.00px;color:#8fc744;font-family:'Liberation Serif','DejaVu Serif',serif;font-weight:bold;left:644.1px;transform-origin:50% 50%;transform:translateX(-50%) scale(0.2500,0.2500);">01</div>
<div class="t" dir="rtl" style="top:0.60px;font-size:32.00px;line-height:40.00px;color:#111111;font-family:'Liberation Sans',sans-serif;left:644.1px;transform-origin:50% 50%;transform:translateX(-50%) scale(0.1833,0.2500);">منوبار</div>
<svg style="left:-1.20px;top:65.10px" width="42.50" height="38.60" viewBox="0 0 42.50 38.60"><defs>
<linearGradient id="g8" x1="0.123" y1="0.172" x2="0.877" y2="0.828"><stop offset="0" stop-color="#8ac53b"/><stop offset="0.34" stop-color="#92c84a"/><stop offset="0.68" stop-color="#c9d898"/><stop offset="1" stop-color="#e4e8c9"/></linearGradient>
<linearGradient id="t8" gradientUnits="userSpaceOnUse" x1="19.30" y1="19.30" x2="39.50" y2="17.90"><stop offset="0.6" stop-color="#d9dfb3"/><stop offset="1" stop-color="#b9cf78"/></linearGradient></defs>
<path d="M33.67 24.56 L39.50 17.90 L32.81 12.11 Z" fill="url(#t8)"/>
<circle cx="19.30" cy="19.30" r="16.3" fill="url(#g8)"/>
<circle cx="19.30" cy="19.30" r="13.40" fill="url(#inner)"/>
</svg>
<div class="t" style="top:54.80px;font-size:35.20px;line-height:44.00px;color:#8fc744;font-family:'Liberation Serif','DejaVu Serif',serif;font-weight:bold;left:18.1px;transform-origin:50% 50%;transform:translateX(-50%) scale(0.2500,0.2500);">18</div>
<div class="t" dir="rtl" style="top:66.60px;font-size:32.00px;line-height:40.00px;color:#111111;font-family:'Liberation Sans',sans-serif;font-weight:bold;left:18.1px;transform-origin:50% 50%;transform:translateX(-50%) scale(0.1643,0.2500);">پیشرفته</div>
<svg style="left:628.90px;top:45.10px" width="43.10" height="38.60" viewBox="0 0 43.10 38.60"><defs>
<linearGradient id="g9" x1="0.131" y1="0.162" x2="0.869" y2="0.838"><stop offset="0" stop-color="#8ac53b"/><stop offset="0.34" stop-color="#92c84a"/><stop offset="0.68" stop-color="#c9d898"/><stop offset="1" stop-color="#e4e8c9"/></linearGradient>
<linearGradient id="t9" gradientUnits="userSpaceOnUse" x1="19.30" y1="19.30" x2="40.10" y2="18.40"><stop offset="0.6" stop-color="#d9dfb3"/><stop offset="1" stop-color="#b9cf78"/></linearGradient></defs>
<path d="M33.53 24.93 L40.10 18.40 L32.99 12.46 Z" fill="url(#t9)"/>
<circle cx="19.30" cy="19.30" r="16.3" fill="url(#g9)"/>
<circle cx="19.30" cy="19.30" r="13.40" fill="url(#inner)"/>
</svg>
<div class="t" style="top:34.80px;font-size:35.20px;line-height:44.00px;color:#8fc744;font-family:'Liberation Serif','DejaVu Serif',serif;font-weight:bold;left:648.2px;transform-origin:50% 50%;transform:translateX(-50%) scale(0.2500,0.2500);">02</div>
<div class="t" dir="rtl" style="top:46.60px;font-size:32.00px;line-height:40.00px;color:#111111;font-family:'Liberation Sans',sans-serif;font-weight:bold;left:648.2px;transform-origin:50% 50%;transform:translateX(-50%) scale(0.1900,0.2500);">دیده‌بان</div>
<svg style="left:679.00px;top:51.70px" width="42.90" height="38.60" viewBox="0 0 42.90 38.60"><defs>
<linearGradient id="g10" x1="0.938" y1="0.741" x2="0.062" y2="0.259"><stop offset="0" stop-color="#8ac53b"/><stop offset="0.34" stop-color="#92c84a"/><stop offset="0.68" stop-color="#c9d898"/><stop offset="1" stop-color="#e4e8c9"/></linearGradient>
<linearGradient id="t10" gradientUnits="userSpaceOnUse" x1="23.60" y1="19.30" x2="3.00" y2="25.30"><stop offset="0.6" stop-color="#d9dfb3"/><stop offset="1" stop-color="#b9cf78"/></linearGradient></defs>
<path d="M8.44 17.22 L3.00 25.30 L11.93 29.20 Z" fill="url(#t10)"/>
<circle cx="23.60" cy="19.30" r="16.3" fill="url(#g10)"/>
<circle cx="23.60" cy="19.30" r="13.40" fill="url(#inner)"/>
</svg>
<div class="t" style="top:41.40px;font-size:35.20px;line-height:44.00px;color:#8fc744;font-family:'Liberation Serif','DejaVu Serif',serif;font-weight:bold;left:702.6px;transform-origin:50% 50%;transform:translateX(-50%) scale(0.2500,0.2500);">03</div>
<div class="t" dir="rtl" style="top:53.20px;font-size:32.00px;line-height:40.00px;color:#111111;font-family:'Liberation Sans',sans-serif;font-weight:bold;left:702.6px;transform-origin:50% 50%;transform:translateX(-50%) scale(0.1748,0.2500);">هات لیست</div>
<svg style="left:680.00px;top:84.70px" width="43.20" height="38.60" viewBox="0 0 43.20 38.60"><defs>
<linearGradient id="g11" x1="0.842" y1="0.865" x2="0.158" y2="0.135"><stop offset="0" stop-color="#8ac53b"/><stop offset="0.34" stop-color="#92c84a"/><stop offset="0.68" stop-color="#c9d898"/><stop offset="1" stop-color="#e4e8c9"/></linearGradient>
<linearGradient id="t11" gradientUnits="userSpaceOnUse" x1="23.90" y1="19.30" x2="3.00" y2="18.60"><stop offset="0.6" stop-color="#d9dfb3"/><stop offset="1" stop-color="#b9cf78"/></linearGradient></defs>
<path d="M10.15 12.60 L3.00 18.60 L9.73 25.07 Z" fill="url(#t11)"/>
<circle cx="23.90" cy="19.30" r="16.3" fill="url(#g11)"/>
<circle cx="23.90" cy="19.30" r="13.40" fill="url(#inner)"/>
</svg>
<div class="t" style="top:74.40px;font-size:35.20px;line-height:44.00px;color:#8fc744;font-family:'Liberation Serif','DejaVu Serif',serif;font-weight:bold;left:703.9px;transform-origin:50% 50%;transform:translateX(-50%) scale(0.2500,0.2500);">04</div>
<div class="t" dir="rtl" style="top:86.20px;font-size:32.00px;line-height:40.00px;color:#111111;font-family:'Liberation Sans',sans-serif;font-weight:bold;left:703.9px;transform-origin:50% 50%;transform:translateX(-50%) scale(0.1698,0.2500);">بیکسو وایزر</div>
<svg style="left:629.10px;top:101.90px" width="43.40" height="38.60" viewBox="0 0 43.40 38.60"><defs>
<linearGradient id="g12" x1="0.130" y1="0.164" x2="0.870" y2="0.836"><stop offset="0" stop-color="#8ac53b"/><stop offset="0.34" stop-color="#92c84a"/><stop offset="0.68" stop-color="#c9d898"/><stop offset="1" stop-color="#e4e8c9"/></linearGradient>
<linearGradient id="t12" gradientUnits="userSpaceOnUse" x1="19.30" y1="19.30" x2="40.40" y2="18.30"><stop offset="0.6" stop-color="#d9dfb3"/><stop offset="1" stop-color="#b9cf78"/></linearGradient></defs>
<path d="M33.55 24.87 L40.40 18.30 L32.96 12.41 Z" fill="url(#t12)"/>
<circle cx="19.30" cy="19.30" r="16.3" fill="url(#g12)"/>
<circle cx="19.30" cy="19.30" r="13.40" fill="url(#inner)"/>
</svg>
<div class="t" style="top:91.60px;font-size:35.20px;line-height:44.00px;color:#8fc744;font-family:'Liberation Serif','DejaVu Serif',serif;font-weight:bold;left:648.4px;transform-origin:50% 50%;transform:translateX(-50%) scale(0.2500,0.2500);">05</div>
<div class="t" dir="rtl" style="top:103.40px;font-size:32.00px;line-height:40.00px;color:#111111;font-family:'Liberation Sans',sans-serif;left:648.4px;transform-origin:50% 50%;transform:translateX(-50%) scale(0.1826,0.2500);">خبرها</div>
<svg style="left:680.20px;top:118.70px" width="43.90" height="38.60" viewBox="0 0 43.90 38.60"><defs>
<linearGradient id="g13" x1="0.870" y1="0.837" x2="0.130" y2="0.163"><stop offset="0" stop-color="#8ac53b"/><stop offset="0.34" stop-color="#92c84a"/><stop offset="0.68" stop-color="#c9d898"/><stop offset="1" stop-color="#e4e8c9"/></linearGradient>
<linearGradient id="t13" gradientUnits="userSpaceOnUse" x1="24.60" y1="19.30" x2="3.00" y2="20.30"><stop offset="0.6" stop-color="#d9dfb3"/><stop offset="1" stop-color="#b9cf78"/></linearGradient></defs>
<path d="M10.36 13.71 L3.00 20.30 L10.93 26.18 Z" fill="url(#t13)"/>
<circle cx="24.60" cy="19.30" r="16.3" fill="url(#g13)"/>
<circle cx="24.60" cy="19.30" r="13.40" fill="url(#inner)"/>
</svg>
<div class="t" style="top:108.40px;font-size:35.20px;line-height:44.00px;color:#8fc744;font-family:'Liberation Serif','DejaVu Serif',serif;font-weight:bold;left:704.8px;transform-origin:50% 50%;transform:translateX(-50%) scale(0.2500,0.2500);">06</div>
<div class="t" dir="rtl" style="top:120.20px;font-size:32.00px;line-height:40.00px;color:#111111;font-family:'Liberation Sans',sans-serif;font-weight:bold;left:704.8px;transform-origin:50% 50%;transform:translateX(-50%) scale(0.1894,0.2500);">یادداشت</div>
<svg style="left:663.60px;top:265.20px" width="43.50" height="38.60" viewBox="0 0 43.50 38.60"><defs>
<linearGradient id="g14" x1="0.882" y1="0.822" x2="0.118" y2="0.178"><stop offset="0" stop-color="#8ac53b"/><stop offset="0.34" stop-color="#92c84a"/><stop offset="0.68" stop-color="#c9d898"/><stop offset="1" stop-color="#e4e8c9"/></linearGradient>
<linearGradient id="t14" gradientUnits="userSpaceOnUse" x1="24.20" y1="19.30" x2="3.00" y2="21.10"><stop offset="0.6" stop-color="#d9dfb3"/><stop offset="1" stop-color="#b9cf78"/></linearGradient></defs>
<path d="M9.75 14.27 L3.00 21.10 L10.81 26.70 Z" fill="url(#t14)"/>
<circle cx="24.20" cy="19.30" r="16.3" fill="url(#g14)"/>
<circle cx="24.20" cy="19.30" r="13.40" fill="url(#inner)"/>
</svg>
<div class="t" style="top:254.90px;font-size:35.20px;line-height:44.00px;color:#8fc744;font-family:'Liberation Serif','DejaVu Serif',serif;font-weight:bold;left:687.8px;transform-origin:50% 50%;transform:translateX(-50%) scale(0.2500,0.2500);">07</div>
<div class="t" dir="rtl" style="top:266.70px;font-size:32.00px;line-height:40.00px;color:#111111;font-family:'Liberation Sans',sans-serif;font-weight:bold;left:687.8px;transform-origin:50% 50%;transform:translateX(-50%) scale(0.1550,0.2500);">اطلاعات نماد</div>
<svg style="left:403.60px;top:159.20px" width="43.80" height="38.60" viewBox="0 0 43.80 38.60"><defs>
<linearGradient id="g15" x1="0.877" y1="0.828" x2="0.123" y2="0.172"><stop offset="0" stop-color="#8ac53b"/><stop offset="0.34" stop-color="#92c84a"/><stop offset="0.68" stop-color="#c9d898"/><stop offset="1" stop-color="#e4e8c9"/></linearGradient>
<linearGradient id="t15" gradientUnits="userSpaceOnUse" x1="24.50" y1="19.30" x2="3.00" y2="20.80"><stop offset="0.6" stop-color="#d9dfb3"/><stop offset="1" stop-color="#b9cf78"/></linearGradient></defs>
<path d="M10.13 14.05 L3.00 20.80 L11.00 26.50 Z" fill="url(#t15)"/>
<circle cx="24.50" cy="19.30" r="16.3" fill="url(#g15)"/>
<circle cx="24.50" cy="19.30" r="13.40" fill="url(#inner)"/>
</svg>
<div class="t" style="top:146.80px;font-size:34.40px;line-height:43.00px;color:#8fc744;font-family:'Liberation Serif','DejaVu Serif',serif;font-weight:bold;left:428.1px;transform-origin:50% 50%;transform:translateX(-50%) scale(0.2500,0.2500);">12</div>
<div class="t" dir="rtl" style="top:158.20px;font-size:31.20px;line-height:39.00px;color:#111111;font-family:'Liberation Sans',sans-serif;left:428.1px;transform-origin:50% 50%;transform:translateX(-50%) scale(0.1997,0.2500);">پنجره ثبت</div>
<div class="t" dir="rtl" style="top:166.30px;font-size:31.20px;line-height:39.00px;color:#111111;font-family:'Liberation Sans',sans-serif;left:428.1px;transform-origin:50% 50%;transform:translateX(-50%) scale(0.1539,0.2500);">سفارش</div>
<svg style="left:427.70px;top:243.20px" width="38.60" height="43.10" viewBox="0 0 38.60 43.10"><defs>
<linearGradient id="g16" x1="0.833" y1="0.127" x2="0.167" y2="0.873"><stop offset="0" stop-color="#8ac53b"/><stop offset="0.34" stop-color="#92c84a"/><stop offset="0.68" stop-color="#c9d898"/><stop offset="1" stop-color="#e4e8c9"/></linearGradient>
<linearGradient id="t16" gradientUnits="userSpaceOnUse" x1="19.30" y1="19.30" x2="20.50" y2="40.10"><stop offset="0.6" stop-color="#d9dfb3"/><stop offset="1" stop-color="#b9cf78"/></linearGradient></defs>
<path d="M13.88 33.61 L20.50 40.10 L26.33 32.89 Z" fill="url(#t16)"/>
<circle cx="19.30" cy="19.30" r="16.3" fill="url(#g16)"/>
<circle cx="19.30" cy="19.30" r="13.40" fill="url(#inner)"/>
</svg>
<div class="t" style="top:232.90px;font-size:35.20px;line-height:44.00px;color:#8fc744;font-family:'Liberation Serif','DejaVu Serif',serif;font-weight:bold;left:447.0px;transform-origin:50% 50%;transform:translateX(-50%) scale(0.2500,0.2500);">10</div>
<div class="t" dir="rtl" style="top:244.70px;font-size:32.00px;line-height:40.00px;color:#111111;font-family:'Liberation Sans',sans-serif;font-weight:bold;left:447.0px;transform-origin:50% 50%;transform:translateX(-50%) scale(0.1908,0.2500);">پورتفوی</div>
<svg style="left:462.00px;top:243.20px" width="38.60" height="43.10" viewBox="0 0 38.60 43.10"><defs>
<linearGradient id="g17" x1="0.836" y1="0.130" x2="0.164" y2="0.870"><stop offset="0" stop-color="#8ac53b"/><stop offset="0.34" stop-color="#92c84a"/><stop offset="0.68" stop-color="#c9d898"/><stop offset="1" stop-color="#e4e8c9"/></linearGradient>
<linearGradient id="t17" gradientUnits="userSpaceOnUse" x1="19.30" y1="19.30" x2="20.30" y2="40.10"><stop offset="0.6" stop-color="#d9dfb3"/><stop offset="1" stop-color="#b9cf78"/></linearGradient></defs>
<path d="M13.74 33.55 L20.30 40.10 L26.20 32.95 Z" fill="url(#t17)"/>
<circle cx="19.30" cy="19.30" r="16.3" fill="url(#g17)"/>
<circle cx="19.30" cy="19.30" r="13.40" fill="url(#inner)"/>
</svg>
<div class="t" style="top:232.90px;font-size:35.20px;line-height:44.00px;color:#8fc744;font-family:'Liberation Serif','DejaVu Serif',serif;font-weight:bold;left:481.3px;transform-origin:50% 50%;transform:translateX(-50%) scale(0.2500,0.2500);">09</div>
<div class="t" dir="rtl" style="top:244.70px;font-size:32.00px;line-height:40.00px;color:#111111;font-family:'Liberation Sans',sans-serif;font-weight:bold;left:481.3px;transform-origin:50% 50%;transform:translateX(-50%) scale(0.1787,0.2500);">معاملات</div>
<svg style="left:496.20px;top:243.20px" width="38.60" height="43.10" viewBox="0 0 38.60 43.10"><defs>
<linearGradient id="g18" x1="0.840" y1="0.133" x2="0.160" y2="0.867"><stop offset="0" stop-color="#8ac53b"/><stop offset="0.34" stop-color="#92c84a"/><stop offset="0.68" stop-color="#c9d898"/><stop offset="1" stop-color="#e4e8c9"/></linearGradient>
<linearGradient id="t18" gradientUnits="userSpaceOnUse" x1="19.30" y1="19.30" x2="20.10" y2="40.10"><stop offset="0.6" stop-color="#d9dfb3"/><stop offset="1" stop-color="#b9cf78"/></linearGradient></defs>
<path d="M13.60 33.50 L20.10 40.10 L26.07 33.02 Z" fill="url(#t18)"/>
<circle cx="19.30" cy="19.30" r="16.3" fill="url(#g18)"/>
<circle cx="19.30" cy="19.30" r="13.40" fill="url(#inner)"/>
</svg>
<div class="t" style="top:232.90px;font-size:35.20px;line-height:44.00px;color:#8fc744;font-family:'Liberation Serif','DejaVu Serif',serif;font-weight:bold;left:515.5px;transform-origin:50% 50%;transform:translateX(-50%) scale(0.2500,0.2500);">08</div>
<div class="t" dir="rtl" style="top:244.70px;font-size:32.00px;line-height:40.00px;color:#111111;font-family:'Liberation Sans',sans-serif;font-weight:bold;left:515.5px;transform-origin:50% 50%;transform:translateX(-50%) scale(0.1590,0.2500);">سفارش‌ها</div>
<svg style="left:411.70px;top:338.40px" width="44.70" height="38.60" viewBox="0 0 44.70 38.60"><defs>
<linearGradient id="g19" x1="0.143" y1="0.150" x2="0.857" y2="0.850"><stop offset="0" stop-color="#8ac53b"/><stop offset="0.34" stop-color="#92c84a"/><stop offset="0.68" stop-color="#c9d898"/><stop offset="1" stop-color="#e4e8c9"/></linearGradient>
<linearGradient id="t19" gradientUnits="userSpaceOnUse" x1="19.30" y1="19.30" x2="41.70" y2="19.10"><stop offset="0.6" stop-color="#d9dfb3"/><stop offset="1" stop-color="#b9cf78"/></linearGradient></defs>
<path d="M33.33 25.41 L41.70 19.10 L33.21 12.94 Z" fill="url(#t19)"/>
<circle cx="19.30" cy="19.30" r="16.3" fill="url(#g19)"/>
<circle cx="19.30" cy="19.30" r="13.40" fill="url(#inner)"/>
</svg>
<div class="t" style="top:326.00px;font-size:34.40px;line-height:43.00px;color:#8fc744;font-family:'Liberation Serif','DejaVu Serif',serif;font-weight:bold;left:431.0px;transform-origin:50% 50%;transform:translateX(-50%) scale(0.2500,0.2500);">11</div>
<div class="t" dir="rtl" style="top:337.40px;font-size:31.20px;line-height:39.00px;color:#111111;font-family:'Liberation Sans',sans-serif;left:431.0px;transform-origin:50% 50%;transform:translateX(-50%) scale(0.1979,0.2500);">وضعیت</div>
<div class="t" dir="rtl" style="top:345.50px;font-size:31.20px;line-height:39.00px;color:#111111;font-family:'Liberation Sans',sans-serif;left:431.0px;transform-origin:50% 50%;transform:translateX(-50%) scale(0.1800,0.2500);">حساب</div>
<svg style="left:630.30px;top:304.50px" width="42.90" height="38.60" viewBox="0 0 42.90 38.60"><defs>
<linearGradient id="g20" x1="0.046" y1="0.291" x2="0.954" y2="0.709"><stop offset="0" stop-color="#8ac53b"/><stop offset="0.34" stop-color="#92c84a"/><stop offset="0.68" stop-color="#c9d898"/><stop offset="1" stop-color="#e4e8c9"/></linearGradient>
<linearGradient id="t20" gradientUnits="userSpaceOnUse" x1="19.30" y1="19.30" x2="39.90" y2="11.70"><stop offset="0.6" stop-color="#d9dfb3"/><stop offset="1" stop-color="#b9cf78"/></linearGradient></defs>
<path d="M34.57 20.32 L39.90 11.70 L30.25 8.61 Z" fill="url(#t20)"/>
<circle cx="19.30" cy="19.30" r="16.3" fill="url(#g20)"/>
<circle cx="19.30" cy="19.30" r="13.40" fill="url(#inner)"/>
</svg>
<div class="t" style="top:292.10px;font-size:34.40px;line-height:43.00px;color:#8fc744;font-family:'Liberation Serif','DejaVu Serif',serif;font-weight:bold;left:649.6px;transform-origin:50% 50%;transform:translateX(-50%) scale(0.2500,0.2500);">21</div>
<div class="t" dir="rtl" style="top:303.50px;font-size:31.20px;line-height:39.00px;color:#111111;font-family:'Liberation Sans',sans-serif;left:649.6px;transform-origin:50% 50%;transform:translateX(-50%) scale(0.1849,0.2500);">آشنایی با</div>
<div class="t" dir="rtl" style="top:311.60px;font-size:31.20px;line-height:39.00px;color:#111111;font-family:'Liberation Sans',sans-serif;left:649.6px;transform-origin:50% 50%;transform:translateX(-50%) scale(0.1677,0.2500);">سیستم</div>
<svg style="left:680.70px;top:316.40px" width="43.20" height="38.60" viewBox="0 0 43.20 38.60"><defs>
<linearGradient id="g21" x1="0.883" y1="0.822" x2="0.117" y2="0.178"><stop offset="0" stop-color="#8ac53b"/><stop offset="0.34" stop-color="#92c84a"/><stop offset="0.68" stop-color="#c9d898"/><stop offset="1" stop-color="#e4e8c9"/></linearGradient>
<linearGradient id="t21" gradientUnits="userSpaceOnUse" x1="23.90" y1="19.30" x2="3.00" y2="21.10"><stop offset="0.6" stop-color="#d9dfb3"/><stop offset="1" stop-color="#b9cf78"/></linearGradient></defs>
<path d="M9.45 14.28 L3.00 21.10 L10.52 26.71 Z" fill="url(#t21)"/>
<circle cx="23.90" cy="19.30" r="16.3" fill="url(#g21)"/>
<circle cx="23.90" cy="19.30" r="13.40" fill="url(#inner)"/>
</svg>
<div class="t" style="top:306.10px;font-size:35.20px;line-height:44.00px;color:#8fc744;font-family:'Liberation Serif','DejaVu Serif',serif;font-weight:bold;left:704.6px;transform-origin:50% 50%;transform:translateX(-50%) scale(0.2500,0.2500);">20</div>
<div class="t" dir="rtl" style="top:317.90px;font-size:32.00px;line-height:40.00px;color:#111111;font-family:'Liberation Sans',sans-serif;font-weight:bold;left:704.6px;transform-origin:50% 50%;transform:translateX(-50%) scale(0.1750,0.2500);">گفتگو</div>
<svg style="left:659.20px;top:357.80px" width="38.60" height="43.40" viewBox="0 0 38.60 43.40"><defs>
<linearGradient id="g22" x1="0.183" y1="0.887" x2="0.817" y2="0.113"><stop offset="0" stop-color="#8ac53b"/><stop offset="0.34" stop-color="#92c84a"/><stop offset="0.68" stop-color="#c9d898"/><stop offset="1" stop-color="#e4e8c9"/></linearGradient>
<linearGradient id="t22" gradientUnits="userSpaceOnUse" x1="19.30" y1="24.10" x2="17.20" y2="3.00"><stop offset="0.6" stop-color="#d9dfb3"/><stop offset="1" stop-color="#b9cf78"/></linearGradient></defs>
<path d="M24.12 9.58 L17.20 3.00 L11.71 10.82 Z" fill="url(#t22)"/>
<circle cx="19.30" cy="24.10" r="16.3" fill="url(#g22)"/>
<circle cx="19.30" cy="24.10" r="13.40" fill="url(#inner)"/>
</svg>
<div class="t" style="top:352.30px;font-size:35.20px;line-height:44.00px;color:#8fc744;font-family:'Liberation Serif','DejaVu Serif',serif;font-weight:bold;left:678.5px;transform-origin:50% 50%;transform:translateX(-50%) scale(0.2500,0.2500);">22</div>
<div class="t" dir="rtl" style="top:364.10px;font-size:32.00px;line-height:40.00px;color:#111111;font-family:'Liberation Sans',sans-serif;left:678.5px;transform-origin:50% 50%;transform:translateX(-50%) scale(0.1787,0.2500);">درباره</div>
</body></html>
